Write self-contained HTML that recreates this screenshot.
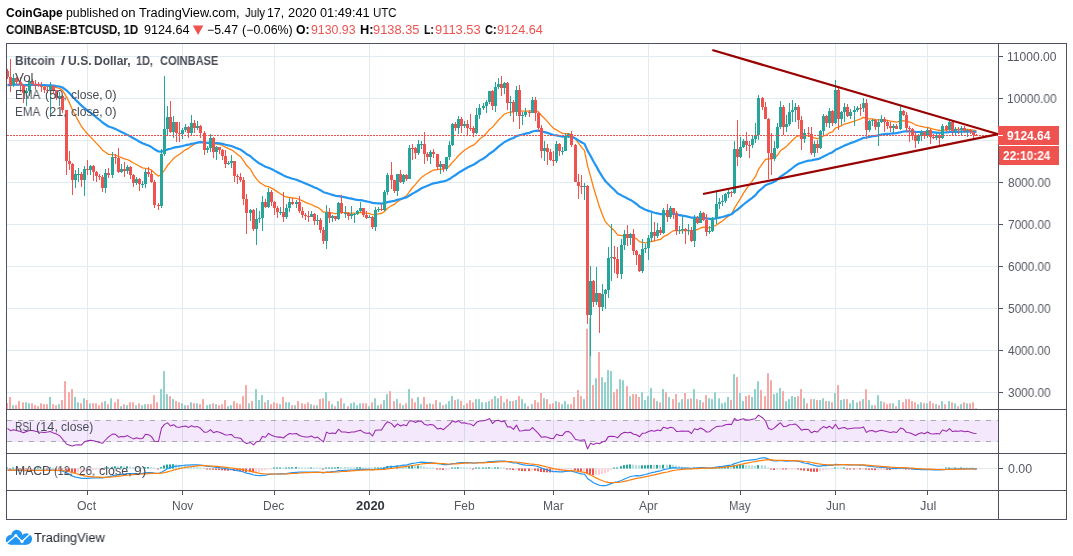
<!DOCTYPE html>
<html><head><meta charset="utf-8"><title>BTCUSD</title>
<style>
html,body{margin:0;padding:0;background:#fff;}
body{width:1073px;height:556px;position:relative;overflow:hidden;font-family:"Liberation Sans",sans-serif;}
svg{position:absolute;left:0;top:0;}
.t{position:absolute;white-space:nowrap;line-height:1;transform-origin:0 0;will-change:transform;}
</style></head><body>
<svg width="1073" height="556" viewBox="0 0 1073 556">
<g fill="#e1ecf2" shape-rendering="crispEdges"><rect x="87" y="44" width="1" height="446"/><rect x="182" y="44" width="1" height="446"/><rect x="274" y="44" width="1" height="446"/><rect x="369" y="44" width="1" height="446"/><rect x="464" y="44" width="1" height="446"/><rect x="553" y="44" width="1" height="446"/><rect x="648" y="44" width="1" height="446"/><rect x="740" y="44" width="1" height="446"/><rect x="835" y="44" width="1" height="446"/><rect x="927" y="44" width="1" height="446"/><rect x="7" y="56" width="991" height="1"/><rect x="7" y="98" width="991" height="1"/><rect x="7" y="140" width="991" height="1"/><rect x="7" y="182" width="991" height="1"/><rect x="7" y="224" width="991" height="1"/><rect x="7" y="266" width="991" height="1"/><rect x="7" y="308" width="991" height="1"/><rect x="7" y="350" width="991" height="1"/><rect x="7" y="392" width="991" height="1"/><rect x="7" y="468" width="991" height="1"/></g>
<rect x="7" y="420" width="991" height="22" fill="rgb(140,25,225)" fill-opacity="0.1" shape-rendering="crispEdges"/>
<g stroke="#a9a9b0" stroke-width="1" stroke-dasharray="5,6" shape-rendering="crispEdges"><line x1="7" y1="420.5" x2="998" y2="420.5"/><line x1="7" y1="441.5" x2="998" y2="441.5"/></g>
<g fill="#92d2cc"><rect x="12" y="405.2" width="2" height="3.8"/><rect x="25" y="402.3" width="2" height="6.7"/><rect x="28" y="403.3" width="2" height="5.7"/><rect x="49" y="397.0" width="2" height="12.0"/><rect x="58" y="404.2" width="2" height="4.8"/><rect x="74" y="397.0" width="2" height="12.0"/><rect x="77" y="402.3" width="2" height="6.7"/><rect x="83" y="398.3" width="2" height="10.7"/><rect x="89" y="403.3" width="2" height="5.7"/><rect x="104" y="401.1" width="2" height="7.9"/><rect x="110" y="398.3" width="2" height="10.7"/><rect x="120" y="406.2" width="2" height="2.8"/><rect x="126" y="405.2" width="2" height="3.8"/><rect x="135" y="405.2" width="2" height="3.8"/><rect x="141" y="405.2" width="2" height="3.8"/><rect x="144" y="404.2" width="2" height="4.8"/><rect x="160" y="389.1" width="2" height="19.9"/><rect x="163" y="371.1" width="2" height="37.9"/><rect x="166" y="394.1" width="2" height="14.9"/><rect x="172" y="399.1" width="2" height="9.9"/><rect x="181" y="403.3" width="2" height="5.7"/><rect x="184" y="405.2" width="2" height="3.8"/><rect x="190" y="402.3" width="2" height="6.7"/><rect x="196" y="403.3" width="2" height="5.7"/><rect x="206" y="405.2" width="2" height="3.8"/><rect x="209" y="404.2" width="2" height="4.8"/><rect x="215" y="404.2" width="2" height="4.8"/><rect x="227" y="406.2" width="2" height="2.8"/><rect x="230" y="405.2" width="2" height="3.8"/><rect x="248" y="403.3" width="2" height="5.7"/><rect x="255" y="389.1" width="2" height="19.9"/><rect x="258" y="400.1" width="2" height="8.9"/><rect x="261" y="395.1" width="2" height="13.9"/><rect x="267" y="400.1" width="2" height="8.9"/><rect x="279" y="404.2" width="2" height="4.8"/><rect x="285" y="402.3" width="2" height="6.7"/><rect x="288" y="402.3" width="2" height="6.7"/><rect x="294" y="405.2" width="2" height="3.8"/><rect x="310" y="404.2" width="2" height="4.8"/><rect x="316" y="405.2" width="2" height="3.8"/><rect x="325" y="392.2" width="2" height="16.8"/><rect x="331" y="404.2" width="2" height="4.8"/><rect x="337" y="401.1" width="2" height="7.9"/><rect x="343" y="403.3" width="2" height="5.7"/><rect x="350" y="403.3" width="2" height="5.7"/><rect x="353" y="402.3" width="2" height="6.7"/><rect x="356" y="405.2" width="2" height="3.8"/><rect x="359" y="403.3" width="2" height="5.7"/><rect x="368" y="406.2" width="2" height="2.8"/><rect x="374" y="398.3" width="2" height="10.7"/><rect x="377" y="405.2" width="2" height="3.8"/><rect x="383" y="400.1" width="2" height="8.9"/><rect x="386" y="394.1" width="2" height="14.9"/><rect x="396" y="399.1" width="2" height="9.9"/><rect x="402" y="405.2" width="2" height="3.8"/><rect x="408" y="389.1" width="2" height="19.9"/><rect x="417" y="397.0" width="2" height="12.0"/><rect x="420" y="404.2" width="2" height="4.8"/><rect x="429" y="403.3" width="2" height="5.7"/><rect x="439" y="402.3" width="2" height="6.7"/><rect x="445" y="404.2" width="2" height="4.8"/><rect x="448" y="401.1" width="2" height="7.9"/><rect x="451" y="396.1" width="2" height="12.9"/><rect x="457" y="399.1" width="2" height="9.9"/><rect x="463" y="405.2" width="2" height="3.8"/><rect x="475" y="399.1" width="2" height="9.9"/><rect x="478" y="399.1" width="2" height="9.9"/><rect x="481" y="402.3" width="2" height="6.7"/><rect x="485" y="402.3" width="2" height="6.7"/><rect x="488" y="401.1" width="2" height="7.9"/><rect x="494" y="396.1" width="2" height="12.9"/><rect x="497" y="398.3" width="2" height="10.7"/><rect x="503" y="402.3" width="2" height="6.7"/><rect x="509" y="401.1" width="2" height="7.9"/><rect x="515" y="400.1" width="2" height="8.9"/><rect x="521" y="399.1" width="2" height="9.9"/><rect x="524" y="403.3" width="2" height="5.7"/><rect x="531" y="404.2" width="2" height="4.8"/><rect x="543" y="398.3" width="2" height="10.7"/><rect x="555" y="401.1" width="2" height="7.9"/><rect x="561" y="404.2" width="2" height="4.8"/><rect x="564" y="401.1" width="2" height="7.9"/><rect x="567" y="404.2" width="2" height="4.8"/><rect x="583" y="399.1" width="2" height="9.9"/><rect x="589" y="318.0" width="2" height="91.0"/><rect x="595" y="378.2" width="2" height="30.8"/><rect x="601" y="377.2" width="2" height="31.8"/><rect x="604" y="382.2" width="2" height="26.8"/><rect x="607" y="370.1" width="2" height="38.9"/><rect x="610" y="371.1" width="2" height="37.9"/><rect x="619" y="379.2" width="2" height="29.8"/><rect x="622" y="380.2" width="2" height="28.8"/><rect x="629" y="396.1" width="2" height="12.9"/><rect x="641" y="392.2" width="2" height="16.8"/><rect x="644" y="400.1" width="2" height="8.9"/><rect x="647" y="396.1" width="2" height="12.9"/><rect x="650" y="388.1" width="2" height="20.9"/><rect x="656" y="401.1" width="2" height="7.9"/><rect x="662" y="389.1" width="2" height="19.9"/><rect x="668" y="397.0" width="2" height="12.0"/><rect x="678" y="402.3" width="2" height="6.7"/><rect x="681" y="399.1" width="2" height="9.9"/><rect x="687" y="399.1" width="2" height="9.9"/><rect x="693" y="389.1" width="2" height="19.9"/><rect x="699" y="400.1" width="2" height="8.9"/><rect x="708" y="398.3" width="2" height="10.7"/><rect x="711" y="399.1" width="2" height="9.9"/><rect x="714" y="392.2" width="2" height="16.8"/><rect x="718" y="398.3" width="2" height="10.7"/><rect x="721" y="403.3" width="2" height="5.7"/><rect x="724" y="402.3" width="2" height="6.7"/><rect x="727" y="397.0" width="2" height="12.0"/><rect x="733" y="374.2" width="2" height="34.8"/><rect x="739" y="393.0" width="2" height="16.0"/><rect x="742" y="401.1" width="2" height="7.9"/><rect x="751" y="397.0" width="2" height="12.0"/><rect x="754" y="389.1" width="2" height="19.9"/><rect x="757" y="381.2" width="2" height="27.8"/><rect x="773" y="394.1" width="2" height="14.9"/><rect x="776" y="393.0" width="2" height="16.0"/><rect x="779" y="388.1" width="2" height="20.9"/><rect x="785" y="401.1" width="2" height="7.9"/><rect x="788" y="399.1" width="2" height="9.9"/><rect x="791" y="396.1" width="2" height="12.9"/><rect x="794" y="397.0" width="2" height="12.0"/><rect x="803" y="398.3" width="2" height="10.7"/><rect x="813" y="399.1" width="2" height="9.9"/><rect x="819" y="400.1" width="2" height="8.9"/><rect x="822" y="398.3" width="2" height="10.7"/><rect x="828" y="401.1" width="2" height="7.9"/><rect x="834" y="393.0" width="2" height="16.0"/><rect x="840" y="400.1" width="2" height="8.9"/><rect x="843" y="399.1" width="2" height="9.9"/><rect x="849" y="403.3" width="2" height="5.7"/><rect x="852" y="400.1" width="2" height="8.9"/><rect x="856" y="402.3" width="2" height="6.7"/><rect x="862" y="399.1" width="2" height="9.9"/><rect x="868" y="400.1" width="2" height="8.9"/><rect x="871" y="405.2" width="2" height="3.8"/><rect x="877" y="395.1" width="2" height="13.9"/><rect x="880" y="401.1" width="2" height="7.9"/><rect x="892" y="403.3" width="2" height="5.7"/><rect x="898" y="400.1" width="2" height="8.9"/><rect x="917" y="404.2" width="2" height="4.8"/><rect x="920" y="402.3" width="2" height="6.7"/><rect x="926" y="403.3" width="2" height="5.7"/><rect x="935" y="404.2" width="2" height="4.8"/><rect x="941" y="401.1" width="2" height="7.9"/><rect x="948" y="401.1" width="2" height="7.9"/><rect x="954" y="403.3" width="2" height="5.7"/><rect x="960" y="404.2" width="2" height="4.8"/><rect x="966" y="403.3" width="2" height="5.7"/></g>
<g fill="#f7a9a7"><rect x="6" y="403.0" width="2" height="6.0"/><rect x="9" y="397.0" width="2" height="12.0"/><rect x="15" y="405.2" width="2" height="3.8"/><rect x="18" y="401.1" width="2" height="7.9"/><rect x="22" y="402.3" width="2" height="6.7"/><rect x="31" y="403.3" width="2" height="5.7"/><rect x="34" y="405.2" width="2" height="3.8"/><rect x="37" y="406.2" width="2" height="2.8"/><rect x="40" y="403.3" width="2" height="5.7"/><rect x="43" y="404.2" width="2" height="4.8"/><rect x="46" y="404.2" width="2" height="4.8"/><rect x="52" y="404.2" width="2" height="4.8"/><rect x="55" y="405.2" width="2" height="3.8"/><rect x="61" y="400.1" width="2" height="8.9"/><rect x="64" y="381.2" width="2" height="27.8"/><rect x="68" y="392.2" width="2" height="16.8"/><rect x="71" y="389.1" width="2" height="19.9"/><rect x="80" y="403.3" width="2" height="5.7"/><rect x="86" y="400.1" width="2" height="8.9"/><rect x="92" y="403.3" width="2" height="5.7"/><rect x="95" y="403.3" width="2" height="5.7"/><rect x="98" y="405.2" width="2" height="3.8"/><rect x="101" y="402.3" width="2" height="6.7"/><rect x="107" y="404.2" width="2" height="4.8"/><rect x="114" y="402.3" width="2" height="6.7"/><rect x="117" y="399.1" width="2" height="9.9"/><rect x="123" y="404.2" width="2" height="4.8"/><rect x="129" y="402.3" width="2" height="6.7"/><rect x="132" y="402.3" width="2" height="6.7"/><rect x="138" y="403.3" width="2" height="5.7"/><rect x="147" y="404.2" width="2" height="4.8"/><rect x="150" y="404.2" width="2" height="4.8"/><rect x="153" y="395.1" width="2" height="13.9"/><rect x="156" y="402.3" width="2" height="6.7"/><rect x="169" y="396.1" width="2" height="12.9"/><rect x="175" y="401.1" width="2" height="7.9"/><rect x="178" y="402.3" width="2" height="6.7"/><rect x="187" y="405.2" width="2" height="3.8"/><rect x="193" y="403.3" width="2" height="5.7"/><rect x="199" y="404.2" width="2" height="4.8"/><rect x="202" y="399.1" width="2" height="9.9"/><rect x="212" y="403.3" width="2" height="5.7"/><rect x="218" y="405.2" width="2" height="3.8"/><rect x="221" y="404.2" width="2" height="4.8"/><rect x="224" y="400.1" width="2" height="8.9"/><rect x="233" y="401.1" width="2" height="7.9"/><rect x="236" y="403.3" width="2" height="5.7"/><rect x="239" y="404.2" width="2" height="4.8"/><rect x="242" y="396.1" width="2" height="12.9"/><rect x="245" y="385.1" width="2" height="23.9"/><rect x="251" y="401.1" width="2" height="7.9"/><rect x="264" y="402.3" width="2" height="6.7"/><rect x="270" y="404.2" width="2" height="4.8"/><rect x="273" y="402.3" width="2" height="6.7"/><rect x="276" y="403.3" width="2" height="5.7"/><rect x="282" y="397.0" width="2" height="12.0"/><rect x="291" y="405.2" width="2" height="3.8"/><rect x="297" y="401.1" width="2" height="7.9"/><rect x="301" y="403.3" width="2" height="5.7"/><rect x="304" y="404.2" width="2" height="4.8"/><rect x="307" y="402.3" width="2" height="6.7"/><rect x="313" y="405.2" width="2" height="3.8"/><rect x="319" y="399.1" width="2" height="9.9"/><rect x="322" y="398.3" width="2" height="10.7"/><rect x="328" y="401.1" width="2" height="7.9"/><rect x="334" y="406.2" width="2" height="2.8"/><rect x="340" y="398.3" width="2" height="10.7"/><rect x="347" y="406.2" width="2" height="2.8"/><rect x="362" y="403.3" width="2" height="5.7"/><rect x="365" y="403.3" width="2" height="5.7"/><rect x="371" y="402.3" width="2" height="6.7"/><rect x="380" y="404.2" width="2" height="4.8"/><rect x="389" y="391.2" width="2" height="17.8"/><rect x="393" y="401.1" width="2" height="7.9"/><rect x="399" y="403.3" width="2" height="5.7"/><rect x="405" y="403.3" width="2" height="5.7"/><rect x="411" y="398.3" width="2" height="10.7"/><rect x="414" y="402.3" width="2" height="6.7"/><rect x="423" y="397.0" width="2" height="12.0"/><rect x="426" y="404.2" width="2" height="4.8"/><rect x="432" y="404.2" width="2" height="4.8"/><rect x="435" y="400.1" width="2" height="8.9"/><rect x="442" y="405.2" width="2" height="3.8"/><rect x="454" y="400.1" width="2" height="8.9"/><rect x="460" y="401.1" width="2" height="7.9"/><rect x="466" y="403.3" width="2" height="5.7"/><rect x="469" y="400.1" width="2" height="8.9"/><rect x="472" y="402.3" width="2" height="6.7"/><rect x="491" y="399.1" width="2" height="9.9"/><rect x="500" y="396.1" width="2" height="12.9"/><rect x="506" y="399.1" width="2" height="9.9"/><rect x="512" y="401.1" width="2" height="7.9"/><rect x="518" y="396.1" width="2" height="12.9"/><rect x="527" y="406.2" width="2" height="2.8"/><rect x="534" y="400.1" width="2" height="8.9"/><rect x="537" y="402.3" width="2" height="6.7"/><rect x="540" y="393.0" width="2" height="16.0"/><rect x="546" y="399.1" width="2" height="9.9"/><rect x="549" y="404.2" width="2" height="4.8"/><rect x="552" y="403.3" width="2" height="5.7"/><rect x="558" y="402.3" width="2" height="6.7"/><rect x="570" y="404.2" width="2" height="4.8"/><rect x="573" y="397.0" width="2" height="12.0"/><rect x="577" y="390.1" width="2" height="18.9"/><rect x="580" y="396.1" width="2" height="12.9"/><rect x="586" y="328.8" width="2" height="80.2"/><rect x="592" y="385.1" width="2" height="23.9"/><rect x="598" y="352.1" width="2" height="56.9"/><rect x="613" y="392.2" width="2" height="16.8"/><rect x="616" y="389.1" width="2" height="19.9"/><rect x="626" y="386.1" width="2" height="22.9"/><rect x="632" y="394.1" width="2" height="14.9"/><rect x="635" y="394.1" width="2" height="14.9"/><rect x="638" y="397.0" width="2" height="12.0"/><rect x="653" y="398.3" width="2" height="10.7"/><rect x="659" y="402.3" width="2" height="6.7"/><rect x="665" y="392.2" width="2" height="16.8"/><rect x="672" y="399.1" width="2" height="9.9"/><rect x="675" y="394.1" width="2" height="14.9"/><rect x="684" y="393.0" width="2" height="16.0"/><rect x="690" y="398.3" width="2" height="10.7"/><rect x="696" y="399.1" width="2" height="9.9"/><rect x="702" y="402.3" width="2" height="6.7"/><rect x="705" y="395.1" width="2" height="13.9"/><rect x="730" y="400.1" width="2" height="8.9"/><rect x="736" y="377.2" width="2" height="31.8"/><rect x="745" y="396.1" width="2" height="12.9"/><rect x="748" y="395.1" width="2" height="13.9"/><rect x="760" y="390.1" width="2" height="18.9"/><rect x="764" y="396.1" width="2" height="12.9"/><rect x="767" y="373.2" width="2" height="35.8"/><rect x="770" y="380.2" width="2" height="28.8"/><rect x="782" y="391.2" width="2" height="17.8"/><rect x="797" y="396.1" width="2" height="12.9"/><rect x="800" y="389.1" width="2" height="19.9"/><rect x="806" y="403.3" width="2" height="5.7"/><rect x="810" y="399.1" width="2" height="9.9"/><rect x="816" y="400.1" width="2" height="8.9"/><rect x="825" y="401.1" width="2" height="7.9"/><rect x="831" y="402.3" width="2" height="6.7"/><rect x="837" y="385.1" width="2" height="23.9"/><rect x="846" y="399.1" width="2" height="9.9"/><rect x="859" y="401.1" width="2" height="7.9"/><rect x="865" y="389.1" width="2" height="19.9"/><rect x="874" y="405.2" width="2" height="3.8"/><rect x="883" y="402.3" width="2" height="6.7"/><rect x="886" y="404.2" width="2" height="4.8"/><rect x="889" y="403.3" width="2" height="5.7"/><rect x="895" y="406.2" width="2" height="2.8"/><rect x="902" y="402.3" width="2" height="6.7"/><rect x="905" y="399.1" width="2" height="9.9"/><rect x="908" y="399.1" width="2" height="9.9"/><rect x="911" y="401.1" width="2" height="7.9"/><rect x="914" y="402.3" width="2" height="6.7"/><rect x="923" y="403.3" width="2" height="5.7"/><rect x="929" y="401.1" width="2" height="7.9"/><rect x="932" y="403.3" width="2" height="5.7"/><rect x="938" y="405.2" width="2" height="3.8"/><rect x="944" y="404.2" width="2" height="4.8"/><rect x="951" y="402.3" width="2" height="6.7"/><rect x="957" y="406.2" width="2" height="2.8"/><rect x="963" y="402.3" width="2" height="6.7"/><rect x="969" y="403.3" width="2" height="5.7"/><rect x="972" y="402.3" width="2" height="6.7"/><rect x="975" y="408.2" width="2" height="0.8"/></g>
<clipPath id="cp"><rect x="7" y="44" width="991" height="365"/></clipPath>
<g clip-path="url(#cp)" fill="none" stroke-linejoin="round"><path d="M7.5,85.6 L10.5,85.5 L13.5,84.9 L16.5,84.6 L20.5,84.7 L23.5,85.4 L26.5,85.9 L29.5,85.5 L32.5,85.3 L35.5,85.2 L38.5,85.3 L41.5,85.4 L44.5,85.8 L47.5,86.3 L50.5,86.3 L53.5,86.6 L56.5,87.7 L59.5,88.4 L62.5,90.4 L66.5,96.8 L69.5,102.9 L72.5,110.0 L75.5,115.8 L78.5,121.1 L81.5,126.5 L84.5,130.4 L87.5,134.0 L90.5,136.9 L93.5,140.1 L96.5,143.4 L99.5,146.4 L102.5,150.2 L105.5,152.3 L108.5,154.4 L112.5,154.7 L115.5,155.0 L118.5,156.5 L121.5,157.7 L124.5,158.9 L127.5,159.6 L130.5,161.1 L133.5,163.0 L136.5,164.5 L139.5,166.3 L142.5,167.9 L145.5,168.3 L148.5,168.8 L151.5,170.0 L154.5,173.1 L158.5,176.2 L161.5,174.2 L164.5,170.1 L167.5,165.3 L170.5,162.2 L173.5,158.6 L176.5,156.3 L179.5,154.3 L182.5,152.1 L185.5,149.8 L188.5,148.3 L191.5,146.0 L194.5,144.3 L197.5,142.7 L200.5,141.8 L204.5,142.6 L207.5,143.1 L210.5,142.7 L213.5,143.5 L216.5,143.9 L219.5,144.4 L222.5,145.5 L225.5,147.2 L228.5,148.6 L231.5,149.8 L234.5,152.1 L237.5,154.4 L240.5,156.7 L243.5,160.6 L246.5,165.3 L250.5,169.4 L253.5,174.8 L256.5,178.9 L259.5,182.4 L262.5,184.2 L265.5,186.2 L268.5,186.7 L271.5,188.1 L274.5,189.9 L277.5,191.9 L280.5,193.7 L283.5,195.8 L286.5,197.0 L289.5,197.4 L292.5,198.0 L296.5,198.4 L299.5,199.5 L302.5,200.9 L305.5,202.3 L308.5,203.6 L311.5,204.5 L314.5,206.1 L317.5,207.3 L320.5,209.3 L323.5,212.2 L326.5,212.2 L329.5,212.7 L332.5,213.1 L335.5,213.6 L338.5,212.6 L341.5,212.6 L345.5,212.7 L348.5,213.0 L351.5,213.1 L354.5,213.1 L357.5,212.9 L360.5,212.5 L363.5,212.7 L366.5,213.2 L369.5,213.5 L372.5,214.7 L375.5,214.3 L378.5,213.8 L381.5,213.5 L384.5,211.5 L387.5,208.2 L391.5,205.7 L394.5,204.3 L397.5,201.6 L400.5,199.8 L403.5,197.6 L406.5,195.8 L409.5,191.5 L412.5,187.5 L415.5,184.4 L418.5,180.7 L421.5,177.4 L424.5,175.2 L427.5,173.5 L430.5,171.6 L433.5,170.0 L437.5,169.7 L440.5,169.2 L443.5,169.2 L446.5,168.1 L449.5,166.0 L452.5,162.2 L455.5,159.1 L458.5,155.5 L461.5,152.8 L464.5,150.2 L467.5,148.2 L470.5,146.4 L473.5,145.2 L476.5,142.5 L479.5,139.3 L483.5,136.3 L486.5,133.2 L489.5,129.4 L492.5,127.2 L495.5,123.6 L498.5,120.0 L501.5,117.1 L504.5,114.0 L507.5,113.0 L510.5,112.0 L513.5,112.0 L516.5,110.0 L519.5,110.6 L522.5,111.0 L525.5,111.1 L529.5,111.2 L532.5,110.2 L535.5,110.5 L538.5,112.0 L541.5,115.5 L544.5,118.5 L547.5,121.6 L550.5,125.1 L553.5,128.3 L556.5,129.8 L559.5,131.7 L562.5,133.4 L565.5,133.6 L568.5,133.7 L571.5,134.7 L575.5,138.9 L578.5,143.2 L581.5,147.2 L584.5,150.7 L587.5,165.6 L590.5,176.1 L593.5,187.5 L596.5,197.2 L599.5,207.1 L602.5,215.0 L605.5,221.9 L608.5,225.1 L611.5,228.1 L614.5,230.8 L617.5,234.8 L621.5,235.7 L624.5,235.6 L627.5,235.8 L630.5,235.7 L633.5,237.0 L636.5,238.7 L639.5,241.6 L642.5,242.3 L645.5,242.8 L648.5,242.4 L651.5,241.5 L654.5,241.0 L657.5,240.0 L660.5,239.4 L663.5,236.7 L667.5,234.9 L670.5,232.5 L673.5,230.7 L676.5,230.7 L679.5,230.6 L682.5,230.5 L685.5,230.5 L688.5,230.4 L691.5,231.4 L694.5,230.1 L697.5,229.5 L700.5,228.0 L703.5,227.2 L706.5,227.7 L709.5,227.9 L712.5,227.0 L716.5,225.0 L719.5,222.9 L722.5,221.0 L725.5,218.6 L728.5,216.1 L731.5,214.0 L734.5,208.1 L737.5,203.4 L740.5,198.3 L743.5,193.1 L746.5,188.7 L749.5,184.8 L752.5,180.6 L755.5,176.4 L758.5,169.3 L762.5,163.6 L765.5,159.5 L768.5,158.9 L771.5,158.9 L774.5,157.9 L777.5,155.1 L780.5,150.7 L783.5,148.6 L786.5,146.4 L789.5,143.3 L792.5,140.3 L795.5,137.3 L798.5,135.7 L801.5,136.0 L804.5,135.7 L808.5,135.6 L811.5,137.1 L814.5,137.8 L817.5,138.7 L820.5,138.0 L823.5,136.0 L826.5,134.8 L829.5,132.7 L832.5,131.8 L835.5,128.0 L838.5,127.1 L841.5,125.7 L844.5,124.0 L847.5,123.3 L850.5,122.3 L854.5,121.1 L857.5,120.0 L860.5,118.9 L863.5,117.4 L866.5,118.6 L869.5,118.8 L872.5,118.9 L875.5,119.6 L878.5,119.8 L881.5,119.7 L884.5,119.9 L887.5,120.4 L890.5,121.1 L893.5,121.6 L896.5,122.2 L900.5,121.2 L903.5,120.6 L906.5,121.3 L909.5,122.0 L912.5,123.2 L915.5,124.8 L918.5,125.8 L921.5,126.4 L924.5,127.2 L927.5,127.5 L930.5,128.3 L933.5,129.1 L936.5,129.8 L939.5,130.5 L942.5,130.1 L946.5,130.1 L949.5,129.4 L952.5,129.5 L955.5,129.5 L958.5,129.5 L961.5,129.4 L964.5,129.5 L967.5,129.5 L970.5,129.8 L973.5,130.2 L976.5,130.7" stroke="#ff7f0e" stroke-width="1.3"/><path d="M7.5,84.9 L10.5,84.9 L13.5,84.6 L16.5,84.5 L20.5,84.6 L23.5,84.9 L26.5,85.1 L29.5,85.0 L32.5,84.9 L35.5,84.9 L38.5,84.9 L41.5,85.0 L44.5,85.2 L47.5,85.4 L50.5,85.4 L53.5,85.6 L56.5,86.1 L59.5,86.5 L62.5,87.5 L66.5,90.3 L69.5,93.2 L72.5,96.6 L75.5,99.7 L78.5,102.6 L81.5,105.6 L84.5,108.1 L87.5,110.6 L90.5,112.7 L93.5,115.1 L96.5,117.5 L99.5,119.8 L102.5,122.5 L105.5,124.5 L108.5,126.5 L112.5,127.7 L115.5,128.9 L118.5,130.6 L121.5,132.1 L124.5,133.6 L127.5,134.9 L130.5,136.5 L133.5,138.3 L136.5,139.9 L139.5,141.7 L142.5,143.3 L145.5,144.4 L148.5,145.6 L151.5,147.0 L154.5,149.3 L158.5,151.5 L161.5,151.6 L164.5,150.7 L167.5,149.4 L170.5,148.7 L173.5,147.7 L176.5,147.1 L179.5,146.6 L182.5,146.0 L185.5,145.2 L188.5,144.7 L191.5,143.9 L194.5,143.3 L197.5,142.6 L200.5,142.2 L204.5,142.5 L207.5,142.8 L210.5,142.6 L213.5,143.0 L216.5,143.1 L219.5,143.4 L222.5,143.9 L225.5,144.7 L228.5,145.4 L231.5,146.0 L234.5,147.2 L237.5,148.4 L240.5,149.6 L243.5,151.6 L246.5,154.0 L250.5,156.2 L253.5,159.0 L256.5,161.4 L259.5,163.6 L262.5,165.1 L265.5,166.7 L268.5,167.7 L271.5,169.0 L274.5,170.6 L277.5,172.2 L280.5,173.8 L283.5,175.4 L286.5,176.7 L289.5,177.7 L292.5,178.7 L296.5,179.7 L299.5,180.9 L302.5,182.2 L305.5,183.5 L308.5,184.8 L311.5,186.0 L314.5,187.4 L317.5,188.6 L320.5,190.2 L323.5,192.2 L326.5,193.0 L329.5,194.0 L332.5,194.9 L335.5,195.8 L338.5,196.1 L341.5,196.7 L345.5,197.4 L348.5,198.1 L351.5,198.7 L354.5,199.3 L357.5,199.8 L360.5,200.1 L363.5,200.7 L366.5,201.4 L369.5,202.0 L372.5,202.9 L375.5,203.2 L378.5,203.4 L381.5,203.7 L384.5,203.2 L387.5,202.1 L391.5,201.3 L394.5,200.9 L397.5,199.8 L400.5,199.1 L403.5,198.2 L406.5,197.4 L409.5,195.5 L412.5,193.6 L415.5,192.0 L418.5,190.2 L421.5,188.3 L424.5,187.0 L427.5,185.8 L430.5,184.5 L433.5,183.3 L437.5,182.6 L440.5,181.9 L443.5,181.4 L446.5,180.5 L449.5,179.1 L452.5,176.9 L455.5,175.0 L458.5,172.8 L461.5,171.0 L464.5,169.2 L467.5,167.5 L470.5,166.0 L473.5,164.7 L476.5,162.8 L479.5,160.6 L483.5,158.5 L486.5,156.3 L489.5,153.7 L492.5,151.8 L495.5,149.3 L498.5,146.7 L501.5,144.4 L504.5,142.0 L507.5,140.5 L510.5,139.0 L513.5,138.0 L516.5,136.1 L519.5,135.3 L522.5,134.5 L525.5,133.6 L529.5,132.8 L532.5,131.5 L535.5,130.8 L538.5,130.7 L541.5,131.4 L544.5,132.1 L547.5,132.9 L550.5,134.0 L553.5,135.0 L556.5,135.4 L559.5,136.0 L562.5,136.6 L565.5,136.5 L568.5,136.4 L571.5,136.8 L575.5,138.5 L578.5,140.4 L581.5,142.2 L584.5,143.9 L587.5,150.6 L590.5,155.7 L593.5,161.5 L596.5,166.6 L599.5,172.1 L602.5,176.9 L605.5,181.3 L608.5,184.3 L611.5,187.2 L614.5,190.0 L617.5,193.3 L621.5,195.4 L624.5,196.9 L627.5,198.5 L630.5,199.9 L633.5,201.9 L636.5,204.0 L639.5,206.6 L642.5,208.3 L645.5,209.8 L648.5,210.9 L651.5,211.8 L654.5,212.7 L657.5,213.4 L660.5,214.2 L663.5,214.0 L667.5,214.1 L670.5,213.9 L673.5,213.8 L676.5,214.5 L679.5,215.1 L682.5,215.7 L685.5,216.2 L688.5,216.8 L691.5,217.7 L694.5,217.7 L697.5,217.9 L700.5,217.7 L703.5,217.8 L706.5,218.4 L709.5,218.8 L712.5,218.8 L716.5,218.3 L719.5,217.6 L722.5,217.0 L725.5,216.1 L728.5,215.1 L731.5,214.3 L734.5,211.7 L737.5,209.6 L740.5,207.1 L743.5,204.5 L746.5,202.2 L749.5,199.9 L752.5,197.6 L755.5,195.1 L758.5,191.3 L762.5,188.0 L765.5,185.2 L768.5,184.0 L771.5,183.0 L774.5,181.6 L777.5,179.5 L780.5,176.6 L783.5,174.7 L786.5,172.7 L789.5,170.4 L792.5,168.0 L795.5,165.6 L798.5,163.8 L801.5,162.8 L804.5,161.7 L808.5,160.6 L811.5,160.3 L814.5,159.7 L817.5,159.2 L820.5,158.1 L823.5,156.5 L826.5,155.1 L829.5,153.4 L832.5,152.2 L835.5,149.8 L838.5,148.5 L841.5,147.1 L844.5,145.5 L847.5,144.4 L850.5,143.1 L854.5,141.8 L857.5,140.5 L860.5,139.2 L863.5,137.8 L866.5,137.5 L869.5,136.8 L872.5,136.2 L875.5,135.8 L878.5,135.3 L881.5,134.6 L884.5,134.1 L887.5,133.8 L890.5,133.6 L893.5,133.3 L896.5,133.1 L900.5,132.2 L903.5,131.5 L906.5,131.4 L909.5,131.3 L912.5,131.4 L915.5,131.8 L918.5,132.0 L921.5,132.0 L924.5,132.1 L927.5,132.0 L930.5,132.2 L933.5,132.4 L936.5,132.6 L939.5,132.8 L942.5,132.5 L946.5,132.4 L949.5,132.0 L952.5,132.0 L955.5,131.9 L958.5,131.8 L961.5,131.6 L964.5,131.6 L967.5,131.5 L970.5,131.6 L973.5,131.7 L976.5,131.8" stroke="#2196f3" stroke-width="2.2"/></g>
<g clip-path="url(#cp)" shape-rendering="crispEdges"><g fill="#26a69a"><rect x="13" y="74" width="1" height="13"/><rect x="12" y="78" width="3" height="7"/><rect x="26" y="88" width="1" height="18"/><rect x="25" y="91" width="3" height="2"/><rect x="29" y="79" width="1" height="17"/><rect x="28" y="81" width="3" height="10"/><rect x="50" y="82" width="1" height="35"/><rect x="49" y="86" width="3" height="5"/><rect x="59" y="92" width="1" height="14"/><rect x="58" y="96" width="3" height="2"/><rect x="75" y="170" width="1" height="18"/><rect x="74" y="174" width="3" height="6"/><rect x="78" y="168" width="1" height="14"/><rect x="77" y="174" width="3" height="1"/><rect x="84" y="166" width="1" height="30"/><rect x="83" y="169" width="3" height="11"/><rect x="90" y="165" width="1" height="10"/><rect x="89" y="166" width="3" height="4"/><rect x="105" y="169" width="1" height="24"/><rect x="104" y="173" width="3" height="15"/><rect x="112" y="152" width="1" height="26"/><rect x="111" y="157" width="3" height="18"/><rect x="121" y="164" width="1" height="9"/><rect x="120" y="169" width="3" height="3"/><rect x="127" y="165" width="1" height="9"/><rect x="126" y="167" width="3" height="4"/><rect x="136" y="177" width="1" height="8"/><rect x="135" y="179" width="3" height="4"/><rect x="142" y="181" width="1" height="7"/><rect x="141" y="184" width="3" height="1"/><rect x="145" y="169" width="1" height="19"/><rect x="144" y="172" width="3" height="12"/><rect x="161" y="149" width="1" height="59"/><rect x="160" y="154" width="3" height="52"/><rect x="164" y="76" width="1" height="80"/><rect x="163" y="129" width="3" height="25"/><rect x="167" y="106" width="1" height="30"/><rect x="166" y="117" width="3" height="12"/><rect x="173" y="116" width="1" height="22"/><rect x="172" y="122" width="3" height="10"/><rect x="182" y="128" width="1" height="11"/><rect x="181" y="130" width="3" height="4"/><rect x="185" y="124" width="1" height="8"/><rect x="184" y="127" width="3" height="3"/><rect x="191" y="115" width="1" height="20"/><rect x="190" y="123" width="3" height="10"/><rect x="197" y="121" width="1" height="9"/><rect x="196" y="126" width="3" height="2"/><rect x="207" y="146" width="1" height="7"/><rect x="206" y="148" width="3" height="2"/><rect x="210" y="134" width="1" height="18"/><rect x="209" y="138" width="3" height="10"/><rect x="216" y="146" width="1" height="14"/><rect x="215" y="147" width="3" height="5"/><rect x="228" y="161" width="1" height="4"/><rect x="227" y="163" width="3" height="1"/><rect x="231" y="155" width="1" height="13"/><rect x="230" y="161" width="3" height="2"/><rect x="250" y="209" width="1" height="12"/><rect x="249" y="210" width="3" height="3"/><rect x="256" y="208" width="1" height="37"/><rect x="255" y="219" width="3" height="10"/><rect x="259" y="211" width="1" height="12"/><rect x="258" y="218" width="3" height="1"/><rect x="262" y="196" width="1" height="35"/><rect x="261" y="202" width="3" height="16"/><rect x="268" y="188" width="1" height="20"/><rect x="267" y="192" width="3" height="15"/><rect x="280" y="207" width="1" height="8"/><rect x="279" y="212" width="3" height="1"/><rect x="286" y="204" width="1" height="15"/><rect x="285" y="208" width="3" height="9"/><rect x="289" y="198" width="1" height="14"/><rect x="288" y="202" width="3" height="6"/><rect x="296" y="200" width="1" height="8"/><rect x="295" y="202" width="3" height="2"/><rect x="311" y="211" width="1" height="6"/><rect x="310" y="214" width="3" height="3"/><rect x="317" y="215" width="1" height="10"/><rect x="316" y="220" width="3" height="1"/><rect x="326" y="205" width="1" height="44"/><rect x="325" y="212" width="3" height="29"/><rect x="332" y="215" width="1" height="7"/><rect x="331" y="216" width="3" height="2"/><rect x="338" y="202" width="1" height="18"/><rect x="337" y="203" width="3" height="16"/><rect x="345" y="206" width="1" height="12"/><rect x="344" y="213" width="3" height="1"/><rect x="351" y="206" width="1" height="13"/><rect x="350" y="214" width="3" height="2"/><rect x="354" y="213" width="1" height="10"/><rect x="353" y="214" width="3" height="1"/><rect x="357" y="210" width="1" height="5"/><rect x="356" y="211" width="3" height="3"/><rect x="360" y="202" width="1" height="10"/><rect x="359" y="208" width="3" height="3"/><rect x="369" y="215" width="1" height="3"/><rect x="368" y="217" width="3" height="1"/><rect x="375" y="207" width="1" height="24"/><rect x="374" y="210" width="3" height="17"/><rect x="378" y="207" width="1" height="5"/><rect x="377" y="209" width="3" height="1"/><rect x="384" y="190" width="1" height="21"/><rect x="383" y="192" width="3" height="18"/><rect x="387" y="173" width="1" height="22"/><rect x="386" y="175" width="3" height="17"/><rect x="397" y="174" width="1" height="22"/><rect x="396" y="174" width="3" height="17"/><rect x="403" y="174" width="1" height="10"/><rect x="402" y="175" width="3" height="7"/><rect x="409" y="145" width="1" height="34"/><rect x="408" y="148" width="3" height="31"/><rect x="418" y="140" width="1" height="15"/><rect x="417" y="144" width="3" height="9"/><rect x="421" y="141" width="1" height="8"/><rect x="420" y="144" width="3" height="1"/><rect x="430" y="150" width="1" height="14"/><rect x="429" y="152" width="3" height="5"/><rect x="440" y="161" width="1" height="13"/><rect x="439" y="164" width="3" height="3"/><rect x="446" y="157" width="1" height="14"/><rect x="445" y="157" width="3" height="12"/><rect x="449" y="141" width="1" height="19"/><rect x="448" y="145" width="3" height="12"/><rect x="452" y="123" width="1" height="23"/><rect x="451" y="124" width="3" height="21"/><rect x="458" y="116" width="1" height="18"/><rect x="457" y="119" width="3" height="9"/><rect x="464" y="121" width="1" height="7"/><rect x="463" y="124" width="3" height="2"/><rect x="476" y="108" width="1" height="26"/><rect x="475" y="115" width="3" height="18"/><rect x="479" y="104" width="1" height="15"/><rect x="478" y="108" width="3" height="7"/><rect x="483" y="103" width="1" height="7"/><rect x="482" y="106" width="3" height="2"/><rect x="486" y="100" width="1" height="13"/><rect x="485" y="102" width="3" height="4"/><rect x="489" y="91" width="1" height="13"/><rect x="488" y="91" width="3" height="11"/><rect x="495" y="82" width="1" height="30"/><rect x="494" y="87" width="3" height="19"/><rect x="498" y="78" width="1" height="11"/><rect x="497" y="84" width="3" height="3"/><rect x="504" y="82" width="1" height="12"/><rect x="503" y="83" width="3" height="5"/><rect x="510" y="96" width="1" height="20"/><rect x="509" y="102" width="3" height="1"/><rect x="516" y="86" width="1" height="30"/><rect x="515" y="90" width="3" height="22"/><rect x="522" y="112" width="1" height="13"/><rect x="521" y="115" width="3" height="1"/><rect x="525" y="108" width="1" height="9"/><rect x="524" y="112" width="3" height="3"/><rect x="532" y="97" width="1" height="16"/><rect x="531" y="100" width="3" height="13"/><rect x="544" y="141" width="1" height="20"/><rect x="543" y="148" width="3" height="3"/><rect x="556" y="141" width="1" height="22"/><rect x="555" y="144" width="3" height="17"/><rect x="562" y="147" width="1" height="8"/><rect x="561" y="151" width="3" height="1"/><rect x="565" y="133" width="1" height="18"/><rect x="564" y="136" width="3" height="15"/><rect x="568" y="133" width="1" height="5"/><rect x="567" y="134" width="3" height="2"/><rect x="584" y="183" width="1" height="17"/><rect x="583" y="186" width="3" height="1"/><rect x="590" y="266" width="1" height="90"/><rect x="589" y="281" width="3" height="34"/><rect x="596" y="267" width="1" height="38"/><rect x="595" y="293" width="3" height="9"/><rect x="602" y="284" width="1" height="27"/><rect x="601" y="294" width="3" height="13"/><rect x="605" y="289" width="1" height="20"/><rect x="604" y="290" width="3" height="4"/><rect x="608" y="247" width="1" height="51"/><rect x="607" y="258" width="3" height="32"/><rect x="611" y="224" width="1" height="57"/><rect x="610" y="257" width="3" height="1"/><rect x="621" y="239" width="1" height="40"/><rect x="620" y="245" width="3" height="29"/><rect x="624" y="230" width="1" height="20"/><rect x="623" y="234" width="3" height="11"/><rect x="630" y="233" width="1" height="12"/><rect x="629" y="234" width="3" height="4"/><rect x="642" y="239" width="1" height="34"/><rect x="641" y="249" width="3" height="22"/><rect x="645" y="244" width="1" height="9"/><rect x="644" y="248" width="3" height="1"/><rect x="648" y="235" width="1" height="25"/><rect x="647" y="238" width="3" height="10"/><rect x="651" y="213" width="1" height="29"/><rect x="650" y="232" width="3" height="6"/><rect x="657" y="223" width="1" height="15"/><rect x="656" y="230" width="3" height="6"/><rect x="663" y="208" width="1" height="26"/><rect x="662" y="210" width="3" height="23"/><rect x="670" y="206" width="1" height="13"/><rect x="669" y="208" width="3" height="9"/><rect x="679" y="226" width="1" height="8"/><rect x="678" y="230" width="3" height="1"/><rect x="682" y="216" width="1" height="18"/><rect x="681" y="229" width="3" height="1"/><rect x="688" y="224" width="1" height="11"/><rect x="687" y="230" width="3" height="1"/><rect x="694" y="215" width="1" height="32"/><rect x="693" y="218" width="3" height="23"/><rect x="700" y="211" width="1" height="12"/><rect x="699" y="213" width="3" height="10"/><rect x="709" y="226" width="1" height="8"/><rect x="708" y="231" width="3" height="1"/><rect x="712" y="217" width="1" height="15"/><rect x="711" y="218" width="3" height="13"/><rect x="716" y="192" width="1" height="32"/><rect x="715" y="204" width="3" height="14"/><rect x="719" y="198" width="1" height="11"/><rect x="718" y="202" width="3" height="2"/><rect x="722" y="195" width="1" height="11"/><rect x="721" y="201" width="3" height="1"/><rect x="725" y="193" width="1" height="10"/><rect x="724" y="194" width="3" height="7"/><rect x="728" y="190" width="1" height="8"/><rect x="727" y="192" width="3" height="2"/><rect x="734" y="141" width="1" height="53"/><rect x="733" y="149" width="3" height="44"/><rect x="740" y="137" width="1" height="21"/><rect x="739" y="147" width="3" height="10"/><rect x="743" y="139" width="1" height="9"/><rect x="742" y="141" width="3" height="6"/><rect x="752" y="135" width="1" height="13"/><rect x="751" y="139" width="3" height="6"/><rect x="755" y="123" width="1" height="20"/><rect x="754" y="135" width="3" height="4"/><rect x="758" y="95" width="1" height="45"/><rect x="757" y="98" width="3" height="37"/><rect x="774" y="141" width="1" height="20"/><rect x="773" y="148" width="3" height="11"/><rect x="777" y="123" width="1" height="26"/><rect x="776" y="127" width="3" height="21"/><rect x="780" y="101" width="1" height="28"/><rect x="779" y="107" width="3" height="20"/><rect x="786" y="115" width="1" height="17"/><rect x="785" y="124" width="3" height="3"/><rect x="789" y="103" width="1" height="23"/><rect x="788" y="112" width="3" height="12"/><rect x="792" y="100" width="1" height="22"/><rect x="791" y="110" width="3" height="2"/><rect x="795" y="103" width="1" height="19"/><rect x="794" y="107" width="3" height="3"/><rect x="804" y="129" width="1" height="14"/><rect x="803" y="133" width="3" height="6"/><rect x="814" y="141" width="1" height="16"/><rect x="813" y="144" width="3" height="9"/><rect x="820" y="130" width="1" height="19"/><rect x="819" y="131" width="3" height="17"/><rect x="823" y="114" width="1" height="21"/><rect x="822" y="116" width="3" height="15"/><rect x="829" y="108" width="1" height="20"/><rect x="828" y="111" width="3" height="12"/><rect x="835" y="80" width="1" height="44"/><rect x="834" y="90" width="3" height="33"/><rect x="841" y="111" width="1" height="14"/><rect x="840" y="112" width="3" height="7"/><rect x="844" y="103" width="1" height="19"/><rect x="843" y="107" width="3" height="5"/><rect x="850" y="109" width="1" height="10"/><rect x="849" y="112" width="3" height="4"/><rect x="854" y="106" width="1" height="20"/><rect x="853" y="110" width="3" height="2"/><rect x="857" y="106" width="1" height="6"/><rect x="856" y="108" width="3" height="2"/><rect x="863" y="98" width="1" height="14"/><rect x="862" y="103" width="3" height="5"/><rect x="869" y="120" width="1" height="12"/><rect x="868" y="121" width="3" height="9"/><rect x="872" y="119" width="1" height="7"/><rect x="871" y="120" width="3" height="1"/><rect x="878" y="119" width="1" height="27"/><rect x="877" y="122" width="3" height="5"/><rect x="881" y="115" width="1" height="8"/><rect x="880" y="119" width="3" height="3"/><rect x="893" y="124" width="1" height="9"/><rect x="892" y="126" width="3" height="2"/><rect x="900" y="106" width="1" height="24"/><rect x="899" y="111" width="3" height="18"/><rect x="918" y="134" width="1" height="10"/><rect x="917" y="136" width="3" height="5"/><rect x="921" y="130" width="1" height="11"/><rect x="920" y="132" width="3" height="4"/><rect x="927" y="128" width="1" height="10"/><rect x="926" y="130" width="3" height="6"/><rect x="936" y="133" width="1" height="7"/><rect x="935" y="136" width="3" height="2"/><rect x="942" y="124" width="1" height="15"/><rect x="941" y="126" width="3" height="12"/><rect x="949" y="120" width="1" height="11"/><rect x="948" y="122" width="3" height="8"/><rect x="955" y="127" width="1" height="9"/><rect x="954" y="129" width="3" height="2"/><rect x="961" y="126" width="1" height="9"/><rect x="960" y="128" width="3" height="2"/><rect x="967" y="129" width="1" height="8"/><rect x="966" y="130" width="3" height="1"/></g>
<g fill="#ef5350"><rect x="7" y="69" width="1" height="10"/><rect x="6" y="71" width="3" height="6"/><rect x="10" y="59" width="1" height="33"/><rect x="9" y="77" width="3" height="8"/><rect x="16" y="77" width="1" height="8"/><rect x="15" y="78" width="3" height="4"/><rect x="20" y="77" width="1" height="15"/><rect x="19" y="82" width="3" height="3"/><rect x="23" y="84" width="1" height="19"/><rect x="22" y="85" width="3" height="8"/><rect x="32" y="79" width="1" height="7"/><rect x="31" y="81" width="3" height="3"/><rect x="35" y="80" width="1" height="10"/><rect x="34" y="84" width="3" height="1"/><rect x="38" y="82" width="1" height="5"/><rect x="37" y="84" width="3" height="2"/><rect x="41" y="82" width="1" height="10"/><rect x="40" y="86" width="3" height="1"/><rect x="44" y="86" width="1" height="7"/><rect x="43" y="87" width="3" height="3"/><rect x="47" y="87" width="1" height="6"/><rect x="46" y="90" width="3" height="1"/><rect x="53" y="85" width="1" height="8"/><rect x="52" y="86" width="3" height="4"/><rect x="56" y="90" width="1" height="10"/><rect x="55" y="90" width="3" height="8"/><rect x="62" y="95" width="1" height="18"/><rect x="61" y="96" width="3" height="14"/><rect x="66" y="110" width="1" height="65"/><rect x="65" y="110" width="3" height="51"/><rect x="69" y="151" width="1" height="19"/><rect x="68" y="161" width="3" height="3"/><rect x="72" y="163" width="1" height="32"/><rect x="71" y="164" width="3" height="16"/><rect x="81" y="172" width="1" height="15"/><rect x="80" y="174" width="3" height="6"/><rect x="87" y="160" width="1" height="15"/><rect x="86" y="169" width="3" height="1"/><rect x="93" y="165" width="1" height="16"/><rect x="92" y="166" width="3" height="6"/><rect x="96" y="171" width="1" height="11"/><rect x="95" y="172" width="3" height="4"/><rect x="99" y="174" width="1" height="6"/><rect x="98" y="176" width="3" height="1"/><rect x="102" y="175" width="1" height="17"/><rect x="101" y="177" width="3" height="11"/><rect x="108" y="168" width="1" height="10"/><rect x="107" y="173" width="3" height="2"/><rect x="115" y="154" width="1" height="10"/><rect x="114" y="157" width="3" height="1"/><rect x="118" y="148" width="1" height="25"/><rect x="117" y="158" width="3" height="14"/><rect x="124" y="162" width="1" height="15"/><rect x="123" y="169" width="3" height="2"/><rect x="130" y="166" width="1" height="13"/><rect x="129" y="167" width="3" height="8"/><rect x="133" y="174" width="1" height="13"/><rect x="132" y="175" width="3" height="8"/><rect x="139" y="178" width="1" height="13"/><rect x="138" y="179" width="3" height="5"/><rect x="148" y="167" width="1" height="10"/><rect x="147" y="172" width="3" height="2"/><rect x="151" y="170" width="1" height="13"/><rect x="150" y="174" width="3" height="8"/><rect x="154" y="180" width="1" height="28"/><rect x="153" y="182" width="3" height="23"/><rect x="158" y="203" width="1" height="7"/><rect x="157" y="205" width="3" height="1"/><rect x="170" y="101" width="1" height="32"/><rect x="169" y="117" width="3" height="15"/><rect x="176" y="122" width="1" height="20"/><rect x="175" y="122" width="3" height="11"/><rect x="179" y="122" width="1" height="20"/><rect x="178" y="133" width="3" height="1"/><rect x="188" y="126" width="1" height="12"/><rect x="187" y="127" width="3" height="6"/><rect x="194" y="120" width="1" height="13"/><rect x="193" y="123" width="3" height="5"/><rect x="200" y="125" width="1" height="13"/><rect x="199" y="126" width="3" height="7"/><rect x="204" y="131" width="1" height="24"/><rect x="203" y="133" width="3" height="17"/><rect x="213" y="137" width="1" height="21"/><rect x="212" y="138" width="3" height="14"/><rect x="219" y="147" width="1" height="7"/><rect x="218" y="147" width="3" height="3"/><rect x="222" y="149" width="1" height="11"/><rect x="221" y="150" width="3" height="6"/><rect x="225" y="150" width="1" height="18"/><rect x="224" y="156" width="3" height="8"/><rect x="234" y="161" width="1" height="21"/><rect x="233" y="161" width="3" height="15"/><rect x="237" y="174" width="1" height="10"/><rect x="236" y="176" width="3" height="1"/><rect x="240" y="173" width="1" height="9"/><rect x="239" y="177" width="3" height="3"/><rect x="243" y="177" width="1" height="28"/><rect x="242" y="180" width="3" height="19"/><rect x="246" y="194" width="1" height="40"/><rect x="245" y="199" width="3" height="14"/><rect x="253" y="209" width="1" height="22"/><rect x="252" y="210" width="3" height="19"/><rect x="265" y="199" width="1" height="9"/><rect x="264" y="202" width="3" height="5"/><rect x="271" y="190" width="1" height="16"/><rect x="270" y="192" width="3" height="10"/><rect x="274" y="201" width="1" height="14"/><rect x="273" y="202" width="3" height="6"/><rect x="277" y="206" width="1" height="12"/><rect x="276" y="208" width="3" height="4"/><rect x="283" y="192" width="1" height="30"/><rect x="282" y="212" width="3" height="5"/><rect x="292" y="198" width="1" height="7"/><rect x="291" y="202" width="3" height="2"/><rect x="299" y="196" width="1" height="17"/><rect x="298" y="202" width="3" height="9"/><rect x="302" y="207" width="1" height="11"/><rect x="301" y="211" width="3" height="4"/><rect x="305" y="213" width="1" height="7"/><rect x="304" y="215" width="3" height="1"/><rect x="308" y="211" width="1" height="11"/><rect x="307" y="216" width="3" height="1"/><rect x="314" y="213" width="1" height="12"/><rect x="313" y="214" width="3" height="7"/><rect x="320" y="218" width="1" height="15"/><rect x="319" y="220" width="3" height="10"/><rect x="323" y="227" width="1" height="17"/><rect x="322" y="230" width="3" height="11"/><rect x="329" y="208" width="1" height="15"/><rect x="328" y="212" width="3" height="6"/><rect x="335" y="216" width="1" height="5"/><rect x="334" y="216" width="3" height="3"/><rect x="341" y="195" width="1" height="19"/><rect x="340" y="203" width="3" height="10"/><rect x="348" y="212" width="1" height="8"/><rect x="347" y="213" width="3" height="3"/><rect x="363" y="208" width="1" height="9"/><rect x="362" y="208" width="3" height="7"/><rect x="366" y="211" width="1" height="8"/><rect x="365" y="215" width="3" height="3"/><rect x="372" y="216" width="1" height="13"/><rect x="371" y="217" width="3" height="10"/><rect x="381" y="204" width="1" height="7"/><rect x="380" y="209" width="3" height="1"/><rect x="391" y="162" width="1" height="27"/><rect x="390" y="175" width="3" height="5"/><rect x="394" y="180" width="1" height="13"/><rect x="393" y="180" width="3" height="11"/><rect x="400" y="170" width="1" height="13"/><rect x="399" y="174" width="3" height="8"/><rect x="406" y="174" width="1" height="7"/><rect x="405" y="175" width="3" height="4"/><rect x="412" y="144" width="1" height="16"/><rect x="411" y="148" width="3" height="1"/><rect x="415" y="147" width="1" height="12"/><rect x="414" y="148" width="3" height="5"/><rect x="424" y="132" width="1" height="32"/><rect x="423" y="144" width="3" height="10"/><rect x="427" y="152" width="1" height="9"/><rect x="426" y="154" width="3" height="3"/><rect x="433" y="149" width="1" height="9"/><rect x="432" y="152" width="3" height="2"/><rect x="437" y="154" width="1" height="16"/><rect x="436" y="154" width="3" height="13"/><rect x="443" y="164" width="1" height="8"/><rect x="442" y="164" width="3" height="5"/><rect x="455" y="122" width="1" height="9"/><rect x="454" y="124" width="3" height="4"/><rect x="461" y="117" width="1" height="16"/><rect x="460" y="119" width="3" height="7"/><rect x="467" y="120" width="1" height="15"/><rect x="466" y="124" width="3" height="4"/><rect x="470" y="114" width="1" height="17"/><rect x="469" y="128" width="3" height="1"/><rect x="473" y="126" width="1" height="11"/><rect x="472" y="128" width="3" height="5"/><rect x="492" y="90" width="1" height="20"/><rect x="491" y="91" width="3" height="15"/><rect x="501" y="76" width="1" height="20"/><rect x="500" y="84" width="3" height="4"/><rect x="507" y="82" width="1" height="28"/><rect x="506" y="83" width="3" height="20"/><rect x="513" y="100" width="1" height="22"/><rect x="512" y="102" width="3" height="10"/><rect x="519" y="85" width="1" height="44"/><rect x="518" y="90" width="3" height="26"/><rect x="529" y="110" width="1" height="7"/><rect x="528" y="112" width="3" height="1"/><rect x="535" y="97" width="1" height="24"/><rect x="534" y="100" width="3" height="13"/><rect x="538" y="112" width="1" height="20"/><rect x="537" y="113" width="3" height="15"/><rect x="541" y="125" width="1" height="33"/><rect x="540" y="128" width="3" height="23"/><rect x="547" y="144" width="1" height="21"/><rect x="546" y="148" width="3" height="4"/><rect x="550" y="149" width="1" height="12"/><rect x="549" y="152" width="3" height="8"/><rect x="553" y="151" width="1" height="15"/><rect x="552" y="160" width="3" height="1"/><rect x="559" y="143" width="1" height="13"/><rect x="558" y="144" width="3" height="7"/><rect x="571" y="131" width="1" height="16"/><rect x="570" y="134" width="3" height="11"/><rect x="575" y="144" width="1" height="38"/><rect x="574" y="145" width="3" height="37"/><rect x="578" y="174" width="1" height="25"/><rect x="577" y="182" width="3" height="4"/><rect x="581" y="175" width="1" height="19"/><rect x="580" y="186" width="3" height="1"/><rect x="587" y="185" width="1" height="139"/><rect x="586" y="186" width="3" height="129"/><rect x="593" y="280" width="1" height="27"/><rect x="592" y="281" width="3" height="21"/><rect x="599" y="293" width="1" height="40"/><rect x="598" y="293" width="3" height="14"/><rect x="614" y="246" width="1" height="27"/><rect x="613" y="257" width="3" height="2"/><rect x="617" y="247" width="1" height="31"/><rect x="616" y="259" width="3" height="15"/><rect x="627" y="225" width="1" height="21"/><rect x="626" y="234" width="3" height="4"/><rect x="633" y="229" width="1" height="26"/><rect x="632" y="234" width="3" height="17"/><rect x="636" y="250" width="1" height="15"/><rect x="635" y="251" width="3" height="4"/><rect x="639" y="254" width="1" height="18"/><rect x="638" y="255" width="3" height="16"/><rect x="654" y="222" width="1" height="19"/><rect x="653" y="232" width="3" height="4"/><rect x="660" y="227" width="1" height="8"/><rect x="659" y="230" width="3" height="3"/><rect x="667" y="204" width="1" height="18"/><rect x="666" y="210" width="3" height="7"/><rect x="673" y="208" width="1" height="11"/><rect x="672" y="208" width="3" height="5"/><rect x="676" y="211" width="1" height="24"/><rect x="675" y="213" width="3" height="18"/><rect x="685" y="228" width="1" height="16"/><rect x="684" y="229" width="3" height="2"/><rect x="691" y="227" width="1" height="15"/><rect x="690" y="230" width="3" height="11"/><rect x="697" y="216" width="1" height="8"/><rect x="696" y="218" width="3" height="5"/><rect x="703" y="212" width="1" height="9"/><rect x="702" y="213" width="3" height="7"/><rect x="706" y="214" width="1" height="22"/><rect x="705" y="220" width="3" height="12"/><rect x="731" y="191" width="1" height="6"/><rect x="730" y="192" width="3" height="1"/><rect x="737" y="120" width="1" height="46"/><rect x="736" y="149" width="3" height="8"/><rect x="746" y="132" width="1" height="19"/><rect x="745" y="141" width="3" height="4"/><rect x="749" y="141" width="1" height="17"/><rect x="748" y="145" width="3" height="1"/><rect x="762" y="97" width="1" height="13"/><rect x="761" y="98" width="3" height="9"/><rect x="765" y="102" width="1" height="17"/><rect x="764" y="107" width="3" height="12"/><rect x="768" y="118" width="1" height="61"/><rect x="767" y="119" width="3" height="34"/><rect x="771" y="133" width="1" height="42"/><rect x="770" y="153" width="3" height="6"/><rect x="783" y="105" width="1" height="30"/><rect x="782" y="107" width="3" height="20"/><rect x="798" y="105" width="1" height="24"/><rect x="797" y="107" width="3" height="13"/><rect x="801" y="116" width="1" height="34"/><rect x="800" y="120" width="3" height="19"/><rect x="808" y="127" width="1" height="10"/><rect x="807" y="133" width="3" height="1"/><rect x="811" y="127" width="1" height="28"/><rect x="810" y="134" width="3" height="19"/><rect x="817" y="140" width="1" height="13"/><rect x="816" y="144" width="3" height="4"/><rect x="826" y="115" width="1" height="12"/><rect x="825" y="116" width="3" height="7"/><rect x="832" y="110" width="1" height="16"/><rect x="831" y="111" width="3" height="12"/><rect x="838" y="88" width="1" height="42"/><rect x="837" y="90" width="3" height="29"/><rect x="847" y="104" width="1" height="13"/><rect x="846" y="107" width="3" height="9"/><rect x="860" y="104" width="1" height="12"/><rect x="859" y="108" width="3" height="1"/><rect x="866" y="99" width="1" height="40"/><rect x="865" y="103" width="3" height="27"/><rect x="875" y="119" width="1" height="11"/><rect x="874" y="120" width="3" height="7"/><rect x="884" y="117" width="1" height="15"/><rect x="883" y="119" width="3" height="3"/><rect x="887" y="120" width="1" height="9"/><rect x="886" y="122" width="3" height="4"/><rect x="890" y="122" width="1" height="10"/><rect x="889" y="126" width="3" height="2"/><rect x="896" y="124" width="1" height="5"/><rect x="895" y="126" width="3" height="3"/><rect x="903" y="110" width="1" height="6"/><rect x="902" y="111" width="3" height="4"/><rect x="906" y="112" width="1" height="20"/><rect x="905" y="115" width="3" height="13"/><rect x="909" y="126" width="1" height="16"/><rect x="908" y="128" width="3" height="1"/><rect x="912" y="128" width="1" height="12"/><rect x="911" y="129" width="3" height="6"/><rect x="915" y="132" width="1" height="16"/><rect x="914" y="135" width="3" height="6"/><rect x="924" y="131" width="1" height="8"/><rect x="923" y="132" width="3" height="4"/><rect x="930" y="129" width="1" height="15"/><rect x="929" y="130" width="3" height="7"/><rect x="933" y="134" width="1" height="5"/><rect x="932" y="137" width="3" height="1"/><rect x="939" y="134" width="1" height="11"/><rect x="938" y="136" width="3" height="2"/><rect x="946" y="125" width="1" height="7"/><rect x="945" y="126" width="3" height="4"/><rect x="952" y="121" width="1" height="14"/><rect x="951" y="122" width="3" height="9"/><rect x="958" y="127" width="1" height="7"/><rect x="957" y="129" width="3" height="1"/><rect x="964" y="126" width="1" height="7"/><rect x="963" y="128" width="3" height="3"/><rect x="970" y="129" width="1" height="5"/><rect x="969" y="130" width="3" height="2"/><rect x="973" y="131" width="1" height="9"/><rect x="972" y="132" width="3" height="3"/><rect x="976" y="134" width="1" height="2"/><rect x="975" y="135" width="3" height="1"/></g></g>
<line x1="7" y1="135.5" x2="998" y2="135.5" stroke="#ef5350" stroke-width="1" stroke-dasharray="2,1" shape-rendering="crispEdges"/>
<g stroke="#990000" stroke-width="2.2" stroke-linecap="butt"><line x1="712.3" y1="50.0" x2="998.3" y2="134.3"/><line x1="703" y1="194" x2="998.3" y2="134.1"/></g>
<path d="M7.5,428.4 L10.5,430.7 L13.5,429.7 L16.5,430.4 L20.5,431.5 L23.5,432.7 L26.5,431.6 L29.5,430.5 L32.5,430.4 L35.5,431.3 L38.5,432.1 L41.5,432.2 L44.5,432.4 L47.5,432.0 L50.5,431.5 L53.5,433.1 L56.5,434.0 L59.5,435.6 L62.5,439.0 L66.5,444.0 L69.5,445.2 L72.5,445.9 L75.5,445.1 L78.5,444.8 L81.5,444.9 L84.5,441.8 L87.5,440.8 L90.5,440.2 L93.5,440.8 L96.5,441.5 L99.5,442.5 L102.5,443.3 L105.5,440.0 L108.5,436.9 L112.5,434.1 L115.5,434.3 L118.5,437.2 L121.5,436.4 L124.5,436.7 L127.5,435.6 L130.5,437.4 L133.5,438.9 L136.5,437.7 L139.5,438.8 L142.5,438.6 L145.5,434.2 L148.5,434.7 L151.5,436.6 L154.5,441.2 L158.5,441.5 L161.5,428.2 L164.5,424.4 L167.5,422.9 L170.5,426.0 L173.5,424.7 L176.5,427.0 L179.5,427.2 L182.5,426.6 L185.5,426.1 L188.5,427.4 L191.5,425.7 L194.5,426.9 L197.5,426.6 L200.5,428.3 L204.5,432.3 L207.5,431.9 L210.5,429.6 L213.5,432.7 L216.5,431.5 L219.5,432.2 L222.5,433.5 L225.5,435.1 L228.5,434.8 L231.5,434.4 L234.5,437.5 L237.5,437.8 L240.5,438.2 L243.5,441.6 L246.5,443.5 L250.5,442.6 L253.5,444.9 L256.5,441.7 L259.5,441.2 L262.5,436.4 L265.5,437.3 L268.5,433.4 L271.5,435.2 L274.5,436.4 L277.5,437.1 L280.5,437.1 L283.5,438.0 L286.5,435.4 L289.5,433.5 L292.5,434.0 L296.5,433.5 L299.5,435.5 L302.5,436.5 L305.5,436.9 L308.5,437.0 L311.5,436.0 L314.5,437.9 L317.5,437.1 L320.5,439.6 L323.5,441.9 L326.5,432.1 L329.5,433.6 L332.5,433.0 L335.5,433.6 L338.5,429.2 L341.5,431.9 L345.5,431.9 L348.5,432.7 L351.5,432.1 L354.5,432.0 L357.5,431.0 L360.5,430.2 L363.5,432.4 L366.5,433.3 L369.5,432.9 L372.5,436.0 L375.5,430.2 L378.5,429.9 L381.5,430.1 L384.5,425.2 L387.5,421.7 L391.5,423.6 L394.5,427.2 L397.5,423.8 L400.5,426.0 L403.5,424.7 L406.5,425.8 L409.5,420.8 L412.5,421.1 L415.5,422.5 L418.5,421.1 L421.5,421.1 L424.5,424.3 L427.5,425.2 L430.5,424.4 L433.5,425.1 L437.5,428.9 L440.5,428.3 L443.5,429.7 L446.5,426.8 L449.5,424.3 L452.5,420.8 L455.5,422.2 L458.5,420.8 L461.5,423.1 L464.5,422.8 L467.5,423.8 L470.5,424.1 L473.5,425.8 L476.5,422.3 L479.5,421.0 L483.5,420.8 L486.5,420.1 L489.5,418.5 L492.5,423.6 L495.5,420.7 L498.5,420.3 L501.5,421.7 L504.5,420.9 L507.5,426.9 L510.5,426.8 L513.5,429.4 L516.5,425.1 L519.5,430.9 L522.5,430.8 L525.5,430.0 L529.5,430.3 L532.5,427.6 L535.5,430.7 L538.5,433.6 L541.5,437.3 L544.5,436.8 L547.5,437.3 L550.5,438.5 L553.5,438.6 L556.5,434.3 L559.5,435.6 L562.5,435.4 L565.5,431.8 L568.5,431.4 L571.5,433.7 L575.5,439.5 L578.5,440.0 L581.5,440.2 L584.5,439.8 L587.5,448.9 L590.5,443.3 L593.5,444.4 L596.5,443.1 L599.5,443.8 L602.5,441.8 L605.5,441.1 L608.5,436.4 L611.5,436.3 L614.5,436.4 L617.5,437.9 L621.5,433.7 L624.5,432.3 L627.5,432.7 L630.5,432.2 L633.5,434.3 L636.5,434.8 L639.5,436.7 L642.5,433.2 L645.5,433.0 L648.5,431.5 L651.5,430.6 L654.5,431.2 L657.5,430.1 L660.5,430.8 L663.5,427.2 L667.5,428.4 L670.5,427.2 L673.5,428.0 L676.5,431.4 L679.5,431.3 L682.5,431.0 L685.5,431.3 L688.5,431.1 L691.5,433.5 L694.5,428.8 L697.5,429.7 L700.5,428.0 L703.5,429.4 L706.5,432.0 L709.5,431.7 L712.5,429.1 L716.5,426.6 L719.5,426.2 L722.5,426.1 L725.5,424.8 L728.5,424.3 L731.5,424.6 L734.5,418.5 L737.5,420.6 L740.5,419.5 L743.5,418.8 L746.5,419.9 L749.5,420.1 L752.5,419.3 L755.5,418.7 L758.5,415.1 L762.5,417.7 L765.5,421.0 L768.5,428.5 L771.5,429.6 L774.5,427.9 L777.5,425.0 L780.5,422.7 L783.5,426.6 L786.5,426.2 L789.5,424.7 L792.5,424.5 L795.5,424.1 L798.5,426.7 L801.5,430.2 L804.5,429.3 L808.5,429.5 L811.5,432.8 L814.5,431.3 L817.5,432.0 L820.5,428.9 L823.5,426.6 L826.5,428.0 L829.5,426.2 L832.5,428.6 L835.5,424.2 L838.5,429.0 L841.5,428.1 L844.5,427.5 L847.5,429.1 L850.5,428.5 L854.5,428.1 L857.5,427.9 L860.5,428.0 L863.5,426.9 L866.5,432.4 L869.5,430.8 L872.5,430.6 L875.5,432.0 L878.5,430.9 L881.5,430.2 L884.5,430.9 L887.5,431.8 L890.5,432.5 L893.5,431.8 L896.5,432.5 L900.5,428.1 L903.5,429.1 L906.5,432.4 L909.5,432.8 L912.5,434.0 L915.5,435.5 L918.5,433.8 L921.5,432.8 L924.5,433.7 L927.5,432.0 L930.5,433.8 L933.5,434.0 L936.5,433.5 L939.5,434.0 L942.5,430.0 L946.5,431.3 L949.5,428.7 L952.5,431.6 L955.5,430.9 L958.5,431.2 L961.5,430.7 L964.5,431.7 L967.5,431.2 L970.5,432.3 L973.5,433.3 L976.5,433.4" fill="none" stroke="#9c27b0" stroke-width="1.05" stroke-linejoin="round"/>
<g fill="#26a69a"><rect x="6" y="467.5" width="2" height="1.0"/><rect x="12" y="467.5" width="2" height="1.0"/><rect x="34" y="467.5" width="2" height="1.0"/><rect x="37" y="467.5" width="2" height="1.0"/><rect x="49" y="467.5" width="2" height="1.0"/><rect x="104" y="467.5" width="2" height="1.0"/><rect x="107" y="467.5" width="2" height="1.0"/><rect x="111" y="466.9" width="2" height="1.6"/><rect x="114" y="466.3" width="2" height="2.2"/><rect x="120" y="466.3" width="2" height="2.2"/><rect x="126" y="466.3" width="2" height="2.2"/><rect x="144" y="467.2" width="2" height="1.3"/><rect x="147" y="467.0" width="2" height="1.5"/><rect x="160" y="467.2" width="2" height="1.3"/><rect x="163" y="465.4" width="2" height="3.1"/><rect x="166" y="464.5" width="2" height="4.0"/><rect x="169" y="464.4" width="2" height="4.1"/><rect x="172" y="464.2" width="2" height="4.3"/><rect x="273" y="467.5" width="2" height="1.0"/><rect x="276" y="467.5" width="2" height="1.0"/><rect x="279" y="467.5" width="2" height="1.0"/><rect x="285" y="467.5" width="2" height="1.0"/><rect x="288" y="467.5" width="2" height="1.0"/><rect x="291" y="467.3" width="2" height="1.2"/><rect x="295" y="467.0" width="2" height="1.5"/><rect x="310" y="467.5" width="2" height="1.0"/><rect x="325" y="467.5" width="2" height="1.0"/><rect x="328" y="467.5" width="2" height="1.0"/><rect x="331" y="467.5" width="2" height="1.0"/><rect x="334" y="467.5" width="2" height="1.0"/><rect x="337" y="467.0" width="2" height="1.5"/><rect x="356" y="467.3" width="2" height="1.2"/><rect x="359" y="467.2" width="2" height="1.3"/><rect x="374" y="467.5" width="2" height="1.0"/><rect x="377" y="467.5" width="2" height="1.0"/><rect x="380" y="467.5" width="2" height="1.0"/><rect x="383" y="467.1" width="2" height="1.4"/><rect x="386" y="466.1" width="2" height="2.4"/><rect x="390" y="465.8" width="2" height="2.7"/><rect x="396" y="465.9" width="2" height="2.6"/><rect x="408" y="465.7" width="2" height="2.8"/><rect x="411" y="465.4" width="2" height="3.1"/><rect x="417" y="465.6" width="2" height="2.9"/><rect x="451" y="467.5" width="2" height="1.0"/><rect x="454" y="467.5" width="2" height="1.0"/><rect x="457" y="467.2" width="2" height="1.3"/><rect x="475" y="467.5" width="2" height="1.0"/><rect x="478" y="467.5" width="2" height="1.0"/><rect x="482" y="467.5" width="2" height="1.0"/><rect x="485" y="467.5" width="2" height="1.0"/><rect x="488" y="467.2" width="2" height="1.3"/><rect x="494" y="467.4" width="2" height="1.1"/><rect x="497" y="467.3" width="2" height="1.2"/><rect x="613" y="467.5" width="2" height="1.0"/><rect x="616" y="467.5" width="2" height="1.0"/><rect x="620" y="466.3" width="2" height="2.2"/><rect x="623" y="465.1" width="2" height="3.4"/><rect x="626" y="464.7" width="2" height="3.8"/><rect x="629" y="464.4" width="2" height="4.1"/><rect x="641" y="465.3" width="2" height="3.2"/><rect x="644" y="465.3" width="2" height="3.2"/><rect x="647" y="465.1" width="2" height="3.4"/><rect x="650" y="464.9" width="2" height="3.6"/><rect x="656" y="464.9" width="2" height="3.6"/><rect x="662" y="464.7" width="2" height="3.8"/><rect x="669" y="464.7" width="2" height="3.8"/><rect x="693" y="467.5" width="2" height="1.0"/><rect x="696" y="467.5" width="2" height="1.0"/><rect x="699" y="467.4" width="2" height="1.1"/><rect x="711" y="467.5" width="2" height="1.0"/><rect x="715" y="467.5" width="2" height="1.0"/><rect x="718" y="467.1" width="2" height="1.4"/><rect x="721" y="466.9" width="2" height="1.6"/><rect x="724" y="466.6" width="2" height="1.9"/><rect x="727" y="466.4" width="2" height="2.1"/><rect x="733" y="465.3" width="2" height="3.2"/><rect x="736" y="465.1" width="2" height="3.4"/><rect x="739" y="464.8" width="2" height="3.7"/><rect x="742" y="464.8" width="2" height="3.7"/><rect x="757" y="465.1" width="2" height="3.4"/><rect x="834" y="467.5" width="2" height="1.0"/><rect x="843" y="467.5" width="2" height="1.0"/><rect x="945" y="467.5" width="2" height="1.0"/><rect x="948" y="467.5" width="2" height="1.0"/><rect x="954" y="467.5" width="2" height="1.0"/><rect x="960" y="467.5" width="2" height="1.0"/></g>
<g fill="#b2dfdb"><rect x="15" y="467.5" width="2" height="1.0"/><rect x="40" y="467.5" width="2" height="1.0"/><rect x="43" y="467.5" width="2" height="1.0"/><rect x="52" y="467.5" width="2" height="1.0"/><rect x="117" y="466.4" width="2" height="2.1"/><rect x="123" y="466.4" width="2" height="2.1"/><rect x="129" y="466.6" width="2" height="1.9"/><rect x="132" y="467.0" width="2" height="1.5"/><rect x="135" y="467.2" width="2" height="1.3"/><rect x="138" y="467.4" width="2" height="1.1"/><rect x="141" y="467.5" width="2" height="1.0"/><rect x="150" y="467.2" width="2" height="1.3"/><rect x="153" y="467.5" width="2" height="1.0"/><rect x="175" y="464.5" width="2" height="4.0"/><rect x="178" y="464.8" width="2" height="3.7"/><rect x="181" y="465.1" width="2" height="3.4"/><rect x="184" y="465.3" width="2" height="3.2"/><rect x="187" y="465.8" width="2" height="2.7"/><rect x="190" y="466.0" width="2" height="2.5"/><rect x="193" y="466.4" width="2" height="2.1"/><rect x="196" y="466.8" width="2" height="1.7"/><rect x="199" y="467.4" width="2" height="1.1"/><rect x="203" y="467.5" width="2" height="1.0"/><rect x="282" y="467.5" width="2" height="1.0"/><rect x="298" y="467.2" width="2" height="1.3"/><rect x="301" y="467.5" width="2" height="1.0"/><rect x="304" y="467.5" width="2" height="1.0"/><rect x="307" y="467.5" width="2" height="1.0"/><rect x="313" y="467.5" width="2" height="1.0"/><rect x="316" y="467.5" width="2" height="1.0"/><rect x="319" y="467.5" width="2" height="1.0"/><rect x="340" y="467.0" width="2" height="1.5"/><rect x="344" y="467.0" width="2" height="1.5"/><rect x="347" y="467.2" width="2" height="1.3"/><rect x="350" y="467.3" width="2" height="1.2"/><rect x="353" y="467.3" width="2" height="1.2"/><rect x="362" y="467.5" width="2" height="1.0"/><rect x="365" y="467.5" width="2" height="1.0"/><rect x="368" y="467.5" width="2" height="1.0"/><rect x="371" y="467.5" width="2" height="1.0"/><rect x="393" y="466.1" width="2" height="2.4"/><rect x="399" y="466.1" width="2" height="2.4"/><rect x="402" y="466.2" width="2" height="2.3"/><rect x="405" y="466.5" width="2" height="2.0"/><rect x="414" y="465.6" width="2" height="2.9"/><rect x="420" y="465.8" width="2" height="2.7"/><rect x="423" y="466.5" width="2" height="2.0"/><rect x="426" y="467.2" width="2" height="1.3"/><rect x="429" y="467.5" width="2" height="1.0"/><rect x="432" y="467.5" width="2" height="1.0"/><rect x="460" y="467.3" width="2" height="1.2"/><rect x="463" y="467.4" width="2" height="1.1"/><rect x="466" y="467.5" width="2" height="1.0"/><rect x="469" y="467.5" width="2" height="1.0"/><rect x="491" y="467.5" width="2" height="1.0"/><rect x="500" y="467.5" width="2" height="1.0"/><rect x="503" y="467.5" width="2" height="1.0"/><rect x="632" y="464.6" width="2" height="3.9"/><rect x="635" y="464.9" width="2" height="3.6"/><rect x="638" y="465.4" width="2" height="3.1"/><rect x="653" y="464.9" width="2" height="3.6"/><rect x="659" y="465.0" width="2" height="3.5"/><rect x="666" y="464.7" width="2" height="3.8"/><rect x="672" y="464.8" width="2" height="3.7"/><rect x="675" y="465.4" width="2" height="3.1"/><rect x="678" y="466.1" width="2" height="2.4"/><rect x="681" y="466.7" width="2" height="1.8"/><rect x="684" y="467.2" width="2" height="1.3"/><rect x="687" y="467.5" width="2" height="1.0"/><rect x="690" y="467.5" width="2" height="1.0"/><rect x="702" y="467.5" width="2" height="1.0"/><rect x="705" y="467.5" width="2" height="1.0"/><rect x="708" y="467.5" width="2" height="1.0"/><rect x="730" y="466.5" width="2" height="2.0"/><rect x="745" y="464.9" width="2" height="3.6"/><rect x="748" y="465.2" width="2" height="3.3"/><rect x="751" y="465.4" width="2" height="3.1"/><rect x="754" y="465.7" width="2" height="2.8"/><rect x="761" y="465.1" width="2" height="3.4"/><rect x="764" y="465.6" width="2" height="2.9"/><rect x="767" y="467.5" width="2" height="1.0"/><rect x="837" y="467.5" width="2" height="1.0"/><rect x="840" y="467.5" width="2" height="1.0"/><rect x="951" y="467.5" width="2" height="1.0"/><rect x="957" y="467.5" width="2" height="1.0"/><rect x="963" y="467.5" width="2" height="1.0"/><rect x="966" y="467.5" width="2" height="1.0"/><rect x="969" y="467.5" width="2" height="1.0"/><rect x="972" y="467.5" width="2" height="1.0"/></g>
<g fill="#ffcdd2"><rect x="28" y="468.5" width="2" height="1.0"/><rect x="31" y="468.5" width="2" height="1.0"/><rect x="77" y="468.5" width="2" height="4.2"/><rect x="80" y="468.5" width="2" height="4.0"/><rect x="83" y="468.5" width="2" height="3.5"/><rect x="86" y="468.5" width="2" height="3.0"/><rect x="89" y="468.5" width="2" height="2.1"/><rect x="92" y="468.5" width="2" height="1.5"/><rect x="95" y="468.5" width="2" height="1.1"/><rect x="98" y="468.5" width="2" height="1.0"/><rect x="230" y="468.5" width="2" height="2.1"/><rect x="255" y="468.5" width="2" height="3.7"/><rect x="258" y="468.5" width="2" height="3.4"/><rect x="261" y="468.5" width="2" height="2.5"/><rect x="264" y="468.5" width="2" height="1.7"/><rect x="267" y="468.5" width="2" height="1.0"/><rect x="270" y="468.5" width="2" height="1.0"/><rect x="445" y="468.5" width="2" height="1.3"/><rect x="448" y="468.5" width="2" height="1.0"/><rect x="515" y="468.5" width="2" height="1.2"/><rect x="531" y="468.5" width="2" height="2.1"/><rect x="552" y="468.5" width="2" height="3.9"/><rect x="555" y="468.5" width="2" height="3.4"/><rect x="558" y="468.5" width="2" height="3.1"/><rect x="561" y="468.5" width="2" height="2.7"/><rect x="564" y="468.5" width="2" height="1.6"/><rect x="567" y="468.5" width="2" height="1.0"/><rect x="570" y="468.5" width="2" height="1.0"/><rect x="583" y="468.5" width="2" height="2.8"/><rect x="595" y="468.5" width="2" height="6.4"/><rect x="598" y="468.5" width="2" height="6.3"/><rect x="601" y="468.5" width="2" height="5.5"/><rect x="604" y="468.5" width="2" height="4.7"/><rect x="607" y="468.5" width="2" height="3.2"/><rect x="610" y="468.5" width="2" height="1.3"/><rect x="776" y="468.5" width="2" height="1.2"/><rect x="779" y="468.5" width="2" height="1.0"/><rect x="788" y="468.5" width="2" height="1.0"/><rect x="791" y="468.5" width="2" height="1.0"/><rect x="794" y="468.5" width="2" height="1.0"/><rect x="819" y="468.5" width="2" height="2.9"/><rect x="822" y="468.5" width="2" height="1.8"/><rect x="825" y="468.5" width="2" height="1.4"/><rect x="828" y="468.5" width="2" height="1.0"/><rect x="831" y="468.5" width="2" height="1.0"/><rect x="856" y="468.5" width="2" height="1.0"/><rect x="862" y="468.5" width="2" height="1.0"/><rect x="877" y="468.5" width="2" height="1.7"/><rect x="880" y="468.5" width="2" height="1.4"/><rect x="883" y="468.5" width="2" height="1.4"/><rect x="892" y="468.5" width="2" height="1.4"/><rect x="895" y="468.5" width="2" height="1.4"/><rect x="899" y="468.5" width="2" height="1.0"/><rect x="902" y="468.5" width="2" height="1.0"/><rect x="917" y="468.5" width="2" height="1.4"/><rect x="920" y="468.5" width="2" height="1.2"/><rect x="923" y="468.5" width="2" height="1.1"/><rect x="926" y="468.5" width="2" height="1.0"/><rect x="929" y="468.5" width="2" height="1.0"/><rect x="932" y="468.5" width="2" height="1.0"/><rect x="935" y="468.5" width="2" height="1.0"/><rect x="938" y="468.5" width="2" height="1.0"/><rect x="941" y="468.5" width="2" height="1.0"/></g>
<g fill="#ef5350"><rect x="9" y="468.5" width="2" height="1.0"/><rect x="19" y="468.5" width="2" height="1.0"/><rect x="22" y="468.5" width="2" height="1.0"/><rect x="25" y="468.5" width="2" height="1.0"/><rect x="46" y="468.5" width="2" height="1.0"/><rect x="55" y="468.5" width="2" height="1.0"/><rect x="58" y="468.5" width="2" height="1.0"/><rect x="61" y="468.5" width="2" height="1.0"/><rect x="65" y="468.5" width="2" height="2.9"/><rect x="68" y="468.5" width="2" height="3.6"/><rect x="71" y="468.5" width="2" height="4.3"/><rect x="74" y="468.5" width="2" height="4.4"/><rect x="101" y="468.5" width="2" height="1.0"/><rect x="157" y="468.5" width="2" height="1.0"/><rect x="206" y="468.5" width="2" height="1.0"/><rect x="209" y="468.5" width="2" height="1.0"/><rect x="212" y="468.5" width="2" height="1.2"/><rect x="215" y="468.5" width="2" height="1.4"/><rect x="218" y="468.5" width="2" height="1.5"/><rect x="221" y="468.5" width="2" height="1.8"/><rect x="224" y="468.5" width="2" height="2.1"/><rect x="227" y="468.5" width="2" height="2.2"/><rect x="233" y="468.5" width="2" height="2.5"/><rect x="236" y="468.5" width="2" height="2.6"/><rect x="239" y="468.5" width="2" height="2.7"/><rect x="242" y="468.5" width="2" height="3.1"/><rect x="245" y="468.5" width="2" height="3.5"/><rect x="249" y="468.5" width="2" height="3.6"/><rect x="252" y="468.5" width="2" height="3.9"/><rect x="322" y="468.5" width="2" height="1.0"/><rect x="436" y="468.5" width="2" height="1.0"/><rect x="439" y="468.5" width="2" height="1.0"/><rect x="442" y="468.5" width="2" height="1.4"/><rect x="472" y="468.5" width="2" height="1.0"/><rect x="506" y="468.5" width="2" height="1.0"/><rect x="509" y="468.5" width="2" height="1.0"/><rect x="512" y="468.5" width="2" height="1.5"/><rect x="518" y="468.5" width="2" height="2.0"/><rect x="521" y="468.5" width="2" height="2.5"/><rect x="524" y="468.5" width="2" height="2.6"/><rect x="528" y="468.5" width="2" height="2.6"/><rect x="534" y="468.5" width="2" height="2.2"/><rect x="537" y="468.5" width="2" height="2.7"/><rect x="540" y="468.5" width="2" height="3.5"/><rect x="543" y="468.5" width="2" height="3.7"/><rect x="546" y="468.5" width="2" height="3.8"/><rect x="549" y="468.5" width="2" height="3.9"/><rect x="574" y="468.5" width="2" height="1.8"/><rect x="577" y="468.5" width="2" height="2.5"/><rect x="580" y="468.5" width="2" height="2.9"/><rect x="586" y="468.5" width="2" height="5.5"/><rect x="589" y="468.5" width="2" height="6.1"/><rect x="592" y="468.5" width="2" height="6.6"/><rect x="770" y="468.5" width="2" height="1.0"/><rect x="773" y="468.5" width="2" height="1.5"/><rect x="782" y="468.5" width="2" height="1.0"/><rect x="785" y="468.5" width="2" height="1.0"/><rect x="797" y="468.5" width="2" height="1.0"/><rect x="800" y="468.5" width="2" height="1.7"/><rect x="803" y="468.5" width="2" height="2.2"/><rect x="807" y="468.5" width="2" height="2.5"/><rect x="810" y="468.5" width="2" height="3.2"/><rect x="813" y="468.5" width="2" height="3.3"/><rect x="816" y="468.5" width="2" height="3.3"/><rect x="846" y="468.5" width="2" height="1.0"/><rect x="849" y="468.5" width="2" height="1.0"/><rect x="853" y="468.5" width="2" height="1.0"/><rect x="859" y="468.5" width="2" height="1.0"/><rect x="865" y="468.5" width="2" height="1.1"/><rect x="868" y="468.5" width="2" height="1.3"/><rect x="871" y="468.5" width="2" height="1.4"/><rect x="874" y="468.5" width="2" height="1.7"/><rect x="886" y="468.5" width="2" height="1.4"/><rect x="889" y="468.5" width="2" height="1.5"/><rect x="905" y="468.5" width="2" height="1.0"/><rect x="908" y="468.5" width="2" height="1.0"/><rect x="911" y="468.5" width="2" height="1.1"/><rect x="914" y="468.5" width="2" height="1.4"/><rect x="975" y="468.5" width="2" height="1.0"/></g>
<path d="M7.5,470.1 L10.5,470.2 L13.5,470.2 L16.5,470.2 L20.5,470.3 L23.5,470.6 L26.5,470.7 L29.5,470.5 L32.5,470.4 L35.5,470.3 L38.5,470.3 L41.5,470.3 L44.5,470.3 L47.5,470.4 L50.5,470.2 L53.5,470.2 L56.5,470.5 L59.5,470.6 L62.5,471.0 L66.5,472.9 L69.5,474.4 L72.5,476.1 L75.5,477.1 L78.5,477.7 L81.5,478.4 L84.5,478.4 L87.5,478.3 L90.5,478.1 L93.5,477.9 L96.5,477.8 L99.5,477.6 L102.5,477.8 L105.5,477.3 L108.5,476.9 L112.5,475.9 L115.5,475.1 L118.5,474.8 L121.5,474.4 L124.5,474.1 L127.5,473.7 L130.5,473.6 L133.5,473.6 L136.5,473.5 L139.5,473.5 L142.5,473.4 L145.5,472.9 L148.5,472.6 L151.5,472.5 L154.5,473.1 L158.5,473.5 L161.5,472.2 L164.5,470.4 L167.5,468.6 L170.5,467.6 L173.5,466.6 L176.5,466.1 L179.5,465.8 L182.5,465.5 L185.5,465.2 L188.5,465.1 L191.5,464.9 L194.5,464.8 L197.5,464.8 L200.5,465.0 L204.5,465.7 L207.5,466.3 L210.5,466.4 L213.5,467.0 L216.5,467.3 L219.5,467.7 L222.5,468.1 L225.5,468.7 L228.5,469.2 L231.5,469.4 L234.5,470.1 L237.5,470.6 L240.5,471.1 L243.5,472.0 L246.5,473.1 L250.5,473.9 L253.5,475.0 L256.5,475.4 L259.5,475.7 L262.5,475.3 L265.5,475.1 L268.5,474.4 L271.5,474.1 L274.5,474.0 L277.5,473.9 L280.5,473.8 L283.5,473.9 L286.5,473.6 L289.5,473.1 L292.5,472.7 L296.5,472.3 L299.5,472.2 L302.5,472.2 L305.5,472.2 L308.5,472.2 L311.5,472.1 L314.5,472.1 L317.5,472.1 L320.5,472.3 L323.5,472.8 L326.5,472.2 L329.5,472.0 L332.5,471.7 L335.5,471.4 L338.5,470.7 L341.5,470.5 L345.5,470.3 L348.5,470.2 L351.5,470.0 L354.5,469.9 L357.5,469.7 L360.5,469.4 L363.5,469.4 L366.5,469.4 L369.5,469.4 L372.5,469.7 L375.5,469.5 L378.5,469.2 L381.5,469.0 L384.5,468.3 L387.5,467.2 L391.5,466.6 L394.5,466.4 L397.5,465.8 L400.5,465.6 L403.5,465.2 L406.5,465.1 L409.5,464.1 L412.5,463.4 L415.5,463.0 L418.5,462.5 L421.5,462.2 L424.5,462.3 L427.5,462.6 L430.5,462.7 L433.5,463.0 L437.5,463.6 L440.5,464.0 L443.5,464.6 L446.5,464.7 L449.5,464.5 L452.5,463.7 L455.5,463.3 L458.5,462.8 L461.5,462.6 L464.5,462.5 L467.5,462.6 L470.5,462.7 L473.5,463.1 L476.5,462.9 L479.5,462.5 L483.5,462.3 L486.5,462.0 L489.5,461.6 L492.5,461.7 L495.5,461.4 L498.5,461.1 L501.5,461.1 L504.5,461.0 L507.5,461.6 L510.5,462.2 L513.5,463.0 L516.5,463.0 L519.5,463.8 L522.5,464.6 L525.5,465.1 L529.5,465.5 L532.5,465.5 L535.5,466.0 L538.5,466.8 L541.5,468.1 L544.5,469.1 L547.5,470.0 L550.5,470.9 L553.5,471.6 L556.5,471.7 L559.5,471.9 L562.5,471.9 L565.5,471.5 L568.5,471.1 L571.5,471.1 L575.5,472.2 L578.5,473.1 L581.5,473.8 L584.5,474.2 L587.5,478.5 L590.5,480.6 L593.5,482.8 L596.5,484.1 L599.5,485.3 L602.5,485.7 L605.5,485.7 L608.5,484.6 L611.5,483.4 L614.5,482.4 L617.5,481.9 L621.5,480.5 L624.5,479.0 L627.5,477.7 L630.5,476.5 L633.5,476.0 L636.5,475.6 L639.5,475.8 L642.5,475.1 L645.5,474.5 L648.5,473.6 L651.5,472.7 L654.5,472.1 L657.5,471.3 L660.5,470.8 L663.5,469.7 L667.5,469.0 L670.5,468.2 L673.5,467.7 L676.5,467.9 L679.5,468.0 L682.5,468.1 L685.5,468.2 L688.5,468.2 L691.5,468.6 L694.5,468.2 L697.5,468.1 L700.5,467.7 L703.5,467.6 L706.5,467.8 L709.5,468.0 L712.5,467.8 L716.5,467.2 L719.5,466.7 L722.5,466.3 L725.5,465.8 L728.5,465.4 L731.5,465.1 L734.5,463.6 L737.5,462.7 L740.5,461.8 L743.5,460.9 L746.5,460.5 L749.5,460.2 L752.5,459.9 L755.5,459.7 L758.5,458.5 L762.5,457.9 L765.5,457.9 L768.5,459.1 L771.5,460.3 L774.5,461.0 L777.5,461.0 L780.5,460.5 L783.5,460.8 L786.5,461.1 L789.5,461.0 L792.5,460.9 L795.5,460.9 L798.5,461.3 L801.5,462.3 L804.5,463.0 L808.5,463.6 L811.5,464.7 L814.5,465.4 L817.5,466.1 L820.5,466.1 L823.5,465.7 L826.5,465.6 L829.5,465.2 L832.5,465.3 L835.5,464.4 L838.5,464.6 L841.5,464.6 L844.5,464.6 L847.5,464.8 L850.5,464.9 L854.5,465.0 L857.5,465.0 L860.5,465.1 L863.5,465.0 L866.5,465.8 L869.5,466.2 L872.5,466.5 L875.5,467.0 L878.5,467.2 L881.5,467.3 L884.5,467.5 L887.5,467.8 L890.5,468.1 L893.5,468.3 L896.5,468.5 L900.5,468.1 L903.5,468.0 L906.5,468.2 L909.5,468.5 L912.5,468.9 L915.5,469.3 L918.5,469.5 L921.5,469.6 L924.5,469.7 L927.5,469.6 L930.5,469.7 L933.5,469.8 L936.5,469.9 L939.5,469.9 L942.5,469.6 L946.5,469.5 L949.5,469.1 L952.5,469.0 L955.5,469.0 L958.5,468.9 L961.5,468.8 L964.5,468.8 L967.5,468.8 L970.5,468.8 L973.5,468.9 L976.5,469.0" fill="none" stroke="#2196f3" stroke-width="1.2" stroke-linejoin="round"/>
<path d="M7.5,470.2 L10.5,470.2 L13.5,470.2 L16.5,470.2 L20.5,470.2 L23.5,470.3 L26.5,470.4 L29.5,470.4 L32.5,470.4 L35.5,470.4 L38.5,470.4 L41.5,470.4 L44.5,470.3 L47.5,470.3 L50.5,470.3 L53.5,470.3 L56.5,470.3 L59.5,470.4 L62.5,470.5 L66.5,471.0 L69.5,471.7 L72.5,472.6 L75.5,473.5 L78.5,474.3 L81.5,475.1 L84.5,475.8 L87.5,476.3 L90.5,476.6 L93.5,476.9 L96.5,477.1 L99.5,477.2 L102.5,477.3 L105.5,477.3 L108.5,477.2 L112.5,477.0 L115.5,476.6 L118.5,476.2 L121.5,475.9 L124.5,475.5 L127.5,475.2 L130.5,474.8 L133.5,474.6 L136.5,474.4 L139.5,474.2 L142.5,474.0 L145.5,473.8 L148.5,473.6 L151.5,473.4 L154.5,473.3 L158.5,473.3 L161.5,473.1 L164.5,472.6 L167.5,471.8 L170.5,471.0 L173.5,470.1 L176.5,469.3 L179.5,468.6 L182.5,468.0 L185.5,467.4 L188.5,467.0 L191.5,466.6 L194.5,466.2 L197.5,465.9 L200.5,465.7 L204.5,465.7 L207.5,465.8 L210.5,466.0 L213.5,466.2 L216.5,466.4 L219.5,466.7 L222.5,466.9 L225.5,467.3 L228.5,467.7 L231.5,468.0 L234.5,468.4 L237.5,468.9 L240.5,469.3 L243.5,469.9 L246.5,470.5 L250.5,471.2 L253.5,471.9 L256.5,472.6 L259.5,473.3 L262.5,473.7 L265.5,474.0 L268.5,474.0 L271.5,474.1 L274.5,474.0 L277.5,474.0 L280.5,474.0 L283.5,474.0 L286.5,473.9 L289.5,473.7 L292.5,473.5 L296.5,473.3 L299.5,473.0 L302.5,472.9 L305.5,472.7 L308.5,472.6 L311.5,472.5 L314.5,472.4 L317.5,472.4 L320.5,472.4 L323.5,472.4 L326.5,472.4 L329.5,472.3 L332.5,472.2 L335.5,472.0 L338.5,471.8 L341.5,471.5 L345.5,471.3 L348.5,471.1 L351.5,470.9 L354.5,470.7 L357.5,470.5 L360.5,470.2 L363.5,470.1 L366.5,469.9 L369.5,469.8 L372.5,469.8 L375.5,469.7 L378.5,469.6 L381.5,469.5 L384.5,469.3 L387.5,468.9 L391.5,468.4 L394.5,468.0 L397.5,467.6 L400.5,467.2 L403.5,466.8 L406.5,466.4 L409.5,466.0 L412.5,465.5 L415.5,465.0 L418.5,464.5 L421.5,464.0 L424.5,463.7 L427.5,463.5 L430.5,463.3 L433.5,463.2 L437.5,463.3 L440.5,463.5 L443.5,463.7 L446.5,463.9 L449.5,464.0 L452.5,464.0 L455.5,463.8 L458.5,463.6 L461.5,463.4 L464.5,463.2 L467.5,463.1 L470.5,463.0 L473.5,463.0 L476.5,463.0 L479.5,462.9 L483.5,462.8 L486.5,462.6 L489.5,462.4 L492.5,462.3 L495.5,462.1 L498.5,461.9 L501.5,461.7 L504.5,461.6 L507.5,461.6 L510.5,461.7 L513.5,462.0 L516.5,462.2 L519.5,462.5 L522.5,462.9 L525.5,463.3 L529.5,463.8 L532.5,464.1 L535.5,464.5 L538.5,464.9 L541.5,465.6 L544.5,466.3 L547.5,467.0 L550.5,467.8 L553.5,468.6 L556.5,469.2 L559.5,469.7 L562.5,470.2 L565.5,470.4 L568.5,470.6 L571.5,470.7 L575.5,471.0 L578.5,471.4 L581.5,471.9 L584.5,472.3 L587.5,473.6 L590.5,475.0 L593.5,476.5 L596.5,478.1 L599.5,479.5 L602.5,480.8 L605.5,481.8 L608.5,482.3 L611.5,482.5 L614.5,482.5 L617.5,482.4 L621.5,482.0 L624.5,481.4 L627.5,480.7 L630.5,479.8 L633.5,479.1 L636.5,478.4 L639.5,477.9 L642.5,477.3 L645.5,476.7 L648.5,476.1 L651.5,475.4 L654.5,474.8 L657.5,474.1 L660.5,473.4 L663.5,472.7 L667.5,472.0 L670.5,471.2 L673.5,470.5 L676.5,470.0 L679.5,469.6 L682.5,469.3 L685.5,469.1 L688.5,468.9 L691.5,468.8 L694.5,468.7 L697.5,468.6 L700.5,468.4 L703.5,468.2 L706.5,468.2 L709.5,468.1 L712.5,468.1 L716.5,467.9 L719.5,467.7 L722.5,467.4 L725.5,467.1 L728.5,466.7 L731.5,466.4 L734.5,465.9 L737.5,465.2 L740.5,464.5 L743.5,463.8 L746.5,463.1 L749.5,462.6 L752.5,462.0 L755.5,461.6 L758.5,460.9 L762.5,460.3 L765.5,459.9 L768.5,459.7 L771.5,459.8 L774.5,460.1 L777.5,460.3 L780.5,460.3 L783.5,460.4 L786.5,460.5 L789.5,460.6 L792.5,460.7 L795.5,460.7 L798.5,460.8 L801.5,461.1 L804.5,461.5 L808.5,461.9 L811.5,462.5 L814.5,463.1 L817.5,463.7 L820.5,464.1 L823.5,464.5 L826.5,464.7 L829.5,464.8 L832.5,464.9 L835.5,464.8 L838.5,464.8 L841.5,464.7 L844.5,464.7 L847.5,464.7 L850.5,464.8 L854.5,464.8 L857.5,464.8 L860.5,464.9 L863.5,464.9 L866.5,465.1 L869.5,465.3 L872.5,465.6 L875.5,465.8 L878.5,466.1 L881.5,466.4 L884.5,466.6 L887.5,466.8 L890.5,467.1 L893.5,467.3 L896.5,467.5 L900.5,467.7 L903.5,467.7 L906.5,467.8 L909.5,468.0 L912.5,468.1 L915.5,468.4 L918.5,468.6 L921.5,468.8 L924.5,469.0 L927.5,469.1 L930.5,469.2 L933.5,469.3 L936.5,469.5 L939.5,469.5 L942.5,469.6 L946.5,469.5 L949.5,469.4 L952.5,469.4 L955.5,469.3 L958.5,469.2 L961.5,469.1 L964.5,469.1 L967.5,469.0 L970.5,469.0 L973.5,469.0 L976.5,469.0" fill="none" stroke="#ff7f0e" stroke-width="1.2" stroke-linejoin="round"/>
<g fill="#4f525e" shape-rendering="crispEdges"><rect x="6" y="43" width="1061" height="1"/><rect x="6" y="519" width="1061" height="1"/><rect x="6" y="43" width="1" height="477"/><rect x="1066" y="43" width="1" height="477"/><rect x="998" y="43" width="1" height="477"/><rect x="6" y="409" width="1061" height="1"/><rect x="6" y="453" width="1061" height="1"/><rect x="6" y="490" width="1061" height="1"/><rect x="999" y="56" width="4" height="1"/><rect x="999" y="98" width="4" height="1"/><rect x="999" y="182" width="4" height="1"/><rect x="999" y="224" width="4" height="1"/><rect x="999" y="266" width="4" height="1"/><rect x="999" y="308" width="4" height="1"/><rect x="999" y="350" width="4" height="1"/><rect x="999" y="392" width="4" height="1"/><rect x="999" y="468" width="4" height="1"/><rect x="87" y="491" width="1" height="4"/><rect x="182" y="491" width="1" height="4"/><rect x="274" y="491" width="1" height="4"/><rect x="369" y="491" width="1" height="4"/><rect x="464" y="491" width="1" height="4"/><rect x="553" y="491" width="1" height="4"/><rect x="648" y="491" width="1" height="4"/><rect x="740" y="491" width="1" height="4"/><rect x="835" y="491" width="1" height="4"/><rect x="927" y="491" width="1" height="4"/></g>
<g shape-rendering="crispEdges"><rect x="998" y="126" width="61" height="19" fill="#ef5350"/><rect x="999" y="146" width="60" height="19" fill="#ef5350"/><rect x="998" y="135" width="5" height="1" fill="#fff"/></g>
<g transform="translate(5.8,529.8)"><g fill="#2196f3"><circle cx="4.9" cy="10.1" r="4.9"/><circle cx="11" cy="5.6" r="5.6"/><circle cx="20.5" cy="9.2" r="5.8"/><rect x="4.9" y="8" width="15.6" height="7"/></g><path d="M1.0,13.5 L10.1,5.7 L16.2,11.7 L24.0,4.4" fill="none" stroke="#fff" stroke-width="1.35" stroke-linejoin="round"/><circle cx="10.1" cy="5.7" r="1.5" fill="#fff"/><circle cx="16.2" cy="11.7" r="1.65" fill="#fff"/></g>
</svg>
<div class="t" style="left:6.00px;top:7px;font-size:12px;font-weight:bold;color:#000;transform:scaleX(0.9928)">CoinGape</div>
<div class="t" style="left:66.00px;top:7px;font-size:12px;font-weight:normal;color:#000;transform:scaleX(1.0251)">published</div>
<div class="t" style="left:121.25px;top:7px;font-size:12px;font-weight:normal;color:#000;transform:scaleX(1.0981)">on</div>
<div class="t" style="left:138.75px;top:7px;font-size:12px;font-weight:normal;color:#000;transform:scaleX(1.0622)">TradingView.com,</div>
<div class="t" style="left:244.75px;top:7px;font-size:12px;font-weight:normal;color:#000;transform:scaleX(0.9368)">July</div>
<div class="t" style="left:267.00px;top:7px;font-size:12px;font-weight:normal;color:#000;transform:scaleX(1.0239)">17,</div>
<div class="t" style="left:288.25px;top:7px;font-size:12px;font-weight:normal;color:#000;transform:scaleX(1.0706)">2020</div>
<div class="t" style="left:320.00px;top:7px;font-size:12px;font-weight:normal;color:#000;transform:scaleX(1.0623)">01:49:41</div>
<div class="t" style="left:373.00px;top:7px;font-size:12px;font-weight:normal;color:#000;transform:scaleX(0.9506)">UTC</div>
<div class="t" style="left:6.00px;top:24px;font-size:12px;font-weight:bold;color:#000;transform:scaleX(0.9476)">COINBASE:BTCUSD, 1D</div>
<div class="t" style="left:144.00px;top:24px;font-size:12px;font-weight:normal;color:#000;transform:scaleX(1.0522)">9124.64</div>
<div class="t" style="left:207.00px;top:24px;font-size:12px;font-weight:normal;color:#000;transform:scaleX(1.0205)">−5.47</div>
<div class="t" style="left:242.25px;top:24px;font-size:12px;font-weight:normal;color:#000;transform:scaleX(1.0347)">(−0.06%)</div>
<div class="t" style="left:296.00px;top:24px;font-size:12px;font-weight:bold;color:#000;transform:scaleX(1.0171)">O:</div>
<div class="t" style="left:310.75px;top:24px;font-size:12px;font-weight:normal;color:#ef5350;transform:scaleX(1.0272)">9130.93</div>
<div class="t" style="left:360.00px;top:24px;font-size:12px;font-weight:bold;color:#000;transform:scaleX(1.0698)">H:</div>
<div class="t" style="left:373.00px;top:24px;font-size:12px;font-weight:normal;color:#ef5350;transform:scaleX(1.0706)">9138.35</div>
<div class="t" style="left:424.25px;top:24px;font-size:12px;font-weight:bold;color:#000;transform:scaleX(0.8740)">L:</div>
<div class="t" style="left:434.50px;top:24px;font-size:12px;font-weight:normal;color:#ef5350;transform:scaleX(1.0764)">9113.53</div>
<div class="t" style="left:485.00px;top:24px;font-size:12px;font-weight:bold;color:#000;transform:scaleX(0.9091)">C:</div>
<div class="t" style="left:497.00px;top:24px;font-size:12px;font-weight:normal;color:#ef5350;transform:scaleX(1.0569)">9124.64</div>
<div class="t" style="left:14.75px;top:55px;font-size:12px;font-weight:bold;color:#4a4d57;transform:scaleX(0.9833)">Bitcoin</div>
<div class="t" style="left:61.12px;top:55px;font-size:12px;font-weight:bold;color:#4a4d57;transform:scaleX(1.3000)">/</div>
<div class="t" style="left:68.00px;top:55px;font-size:12px;font-weight:bold;color:#4a4d57;transform:scaleX(1.0115)">U.S.</div>
<div class="t" style="left:94.25px;top:55px;font-size:12px;font-weight:bold;color:#4a4d57;transform:scaleX(0.9957)">Dollar,</div>
<div class="t" style="left:136.25px;top:55px;font-size:12px;font-weight:bold;color:#4a4d57;transform:scaleX(0.9030)">1D,</div>
<div class="t" style="left:159.75px;top:55px;font-size:12px;font-weight:bold;color:#4a4d57;transform:scaleX(0.9213)">COINBASE</div>
<div class="t" style="left:14.75px;top:72px;font-size:12px;font-weight:normal;color:#4a4d57;transform:scaleX(1.1143)">Vol</div>
<div class="t" style="left:14.75px;top:89px;font-size:12px;font-weight:normal;color:#4a4d57;transform:scaleX(0.9740)">EMA</div>
<div class="t" style="left:44.75px;top:89px;font-size:12px;font-weight:normal;color:#4a4d57;transform:scaleX(1.0535)">(50,</div>
<div class="t" style="left:70.50px;top:89px;font-size:12px;font-weight:normal;color:#4a4d57;transform:scaleX(1.0101)">close,</div>
<div class="t" style="left:104.75px;top:89px;font-size:12px;font-weight:normal;color:#4a4d57;transform:scaleX(1.0845)">0)</div>
<div class="t" style="left:14.75px;top:106px;font-size:12px;font-weight:normal;color:#4a4d57;transform:scaleX(0.9740)">EMA</div>
<div class="t" style="left:44.75px;top:106px;font-size:12px;font-weight:normal;color:#4a4d57;transform:scaleX(1.0535)">(21,</div>
<div class="t" style="left:70.50px;top:106px;font-size:12px;font-weight:normal;color:#4a4d57;transform:scaleX(1.0101)">close,</div>
<div class="t" style="left:104.75px;top:106px;font-size:12px;font-weight:normal;color:#4a4d57;transform:scaleX(1.0845)">0)</div>
<div class="t" style="left:15.00px;top:421px;font-size:12px;font-weight:normal;color:#4a4d57;transform:scaleX(0.8417)">RSI</div>
<div class="t" style="left:36.25px;top:421px;font-size:12px;font-weight:normal;color:#4a4d57;transform:scaleX(1.0606)">(14,</div>
<div class="t" style="left:61.25px;top:421px;font-size:12px;font-weight:normal;color:#4a4d57;transform:scaleX(1.0081)">close)</div>
<div class="t" style="left:14.50px;top:465px;font-size:12px;font-weight:normal;color:#4a4d57;transform:scaleX(1.0163)">MACD</div>
<div class="t" style="left:54.00px;top:465px;font-size:12px;font-weight:normal;color:#4a4d57;transform:scaleX(0.9027)">(12,</div>
<div class="t" style="left:79.00px;top:465px;font-size:12px;font-weight:normal;color:#4a4d57;transform:scaleX(0.9701)">26,</div>
<div class="t" style="left:99.25px;top:465px;font-size:12px;font-weight:normal;color:#4a4d57;transform:scaleX(1.0420)">close,</div>
<div class="t" style="left:133.50px;top:465px;font-size:12px;font-weight:normal;color:#4a4d57;transform:scaleX(1.1516)">9)</div>
<div class="t" style="left:1007.25px;top:130px;font-size:12px;font-weight:bold;color:#fff;transform:scaleX(1.0024)">9124.64</div>
<div class="t" style="left:1003.00px;top:150px;font-size:12px;font-weight:bold;color:#fff;transform:scaleX(0.9853)">22:10:24</div>
<div class="t" style="left:34.25px;top:531px;font-size:13px;font-weight:normal;color:#1e222d;transform:scaleX(0.9894)">TradingView</div>
<div class="t" style="left:1007.25px;top:51px;font-size:12px;font-weight:normal;color:#555861;transform:scaleX(1.0052)">11000.00</div>
<div class="t" style="left:1007.25px;top:93px;font-size:12px;font-weight:normal;color:#555861;transform:scaleX(0.9898)">10000.00</div>
<div class="t" style="left:1008.25px;top:177px;font-size:12px;font-weight:normal;color:#555861;transform:scaleX(0.9835)">8000.00</div>
<div class="t" style="left:1008.00px;top:219px;font-size:12px;font-weight:normal;color:#555861;transform:scaleX(0.9835)">7000.00</div>
<div class="t" style="left:1008.00px;top:261px;font-size:12px;font-weight:normal;color:#555861;transform:scaleX(0.9835)">6000.00</div>
<div class="t" style="left:1008.25px;top:303px;font-size:12px;font-weight:normal;color:#555861;transform:scaleX(0.9835)">5000.00</div>
<div class="t" style="left:1008.25px;top:345px;font-size:12px;font-weight:normal;color:#555861;transform:scaleX(0.9778)">4000.00</div>
<div class="t" style="left:1008.25px;top:387px;font-size:12px;font-weight:normal;color:#555861;transform:scaleX(0.9835)">3000.00</div>
<div class="t" style="left:1008.25px;top:463px;font-size:12px;font-weight:normal;color:#555861;transform:scaleX(1.0356)">0.00</div>
<div class="t" style="left:77.00px;top:500px;font-size:12px;font-weight:normal;color:#555861;transform:scaleX(1.0224)">Oct</div>
<div class="t" style="left:171.75px;top:500px;font-size:12px;font-weight:normal;color:#555861;transform:scaleX(0.9954)">Nov</div>
<div class="t" style="left:263.25px;top:500px;font-size:12px;font-weight:normal;color:#555861;transform:scaleX(0.9826)">Dec</div>
<div class="t" style="left:355.50px;top:500px;font-size:12px;font-weight:bold;color:#33363f;transform:scaleX(1.0797)">2020</div>
<div class="t" style="left:454.00px;top:500px;font-size:12px;font-weight:normal;color:#555861;transform:scaleX(0.9793)">Feb</div>
<div class="t" style="left:542.50px;top:500px;font-size:12px;font-weight:normal;color:#555861;transform:scaleX(1.0078)">Mar</div>
<div class="t" style="left:639.00px;top:500px;font-size:12px;font-weight:normal;color:#555861;transform:scaleX(1.0082)">Apr</div>
<div class="t" style="left:729.00px;top:500px;font-size:12px;font-weight:normal;color:#555861;transform:scaleX(0.9442)">May</div>
<div class="t" style="left:825.75px;top:500px;font-size:12px;font-weight:normal;color:#555861;transform:scaleX(0.9811)">Jun</div>
<div class="t" style="left:920.00px;top:500px;font-size:12px;font-weight:normal;color:#555861;transform:scaleX(1.0633)">Jul</div>
<svg width="1073" height="556" style="pointer-events:none"><polygon points="192.8,25.4 203.4,25.4 198.1,35" fill="#ef5350"/></svg>
</body></html>
